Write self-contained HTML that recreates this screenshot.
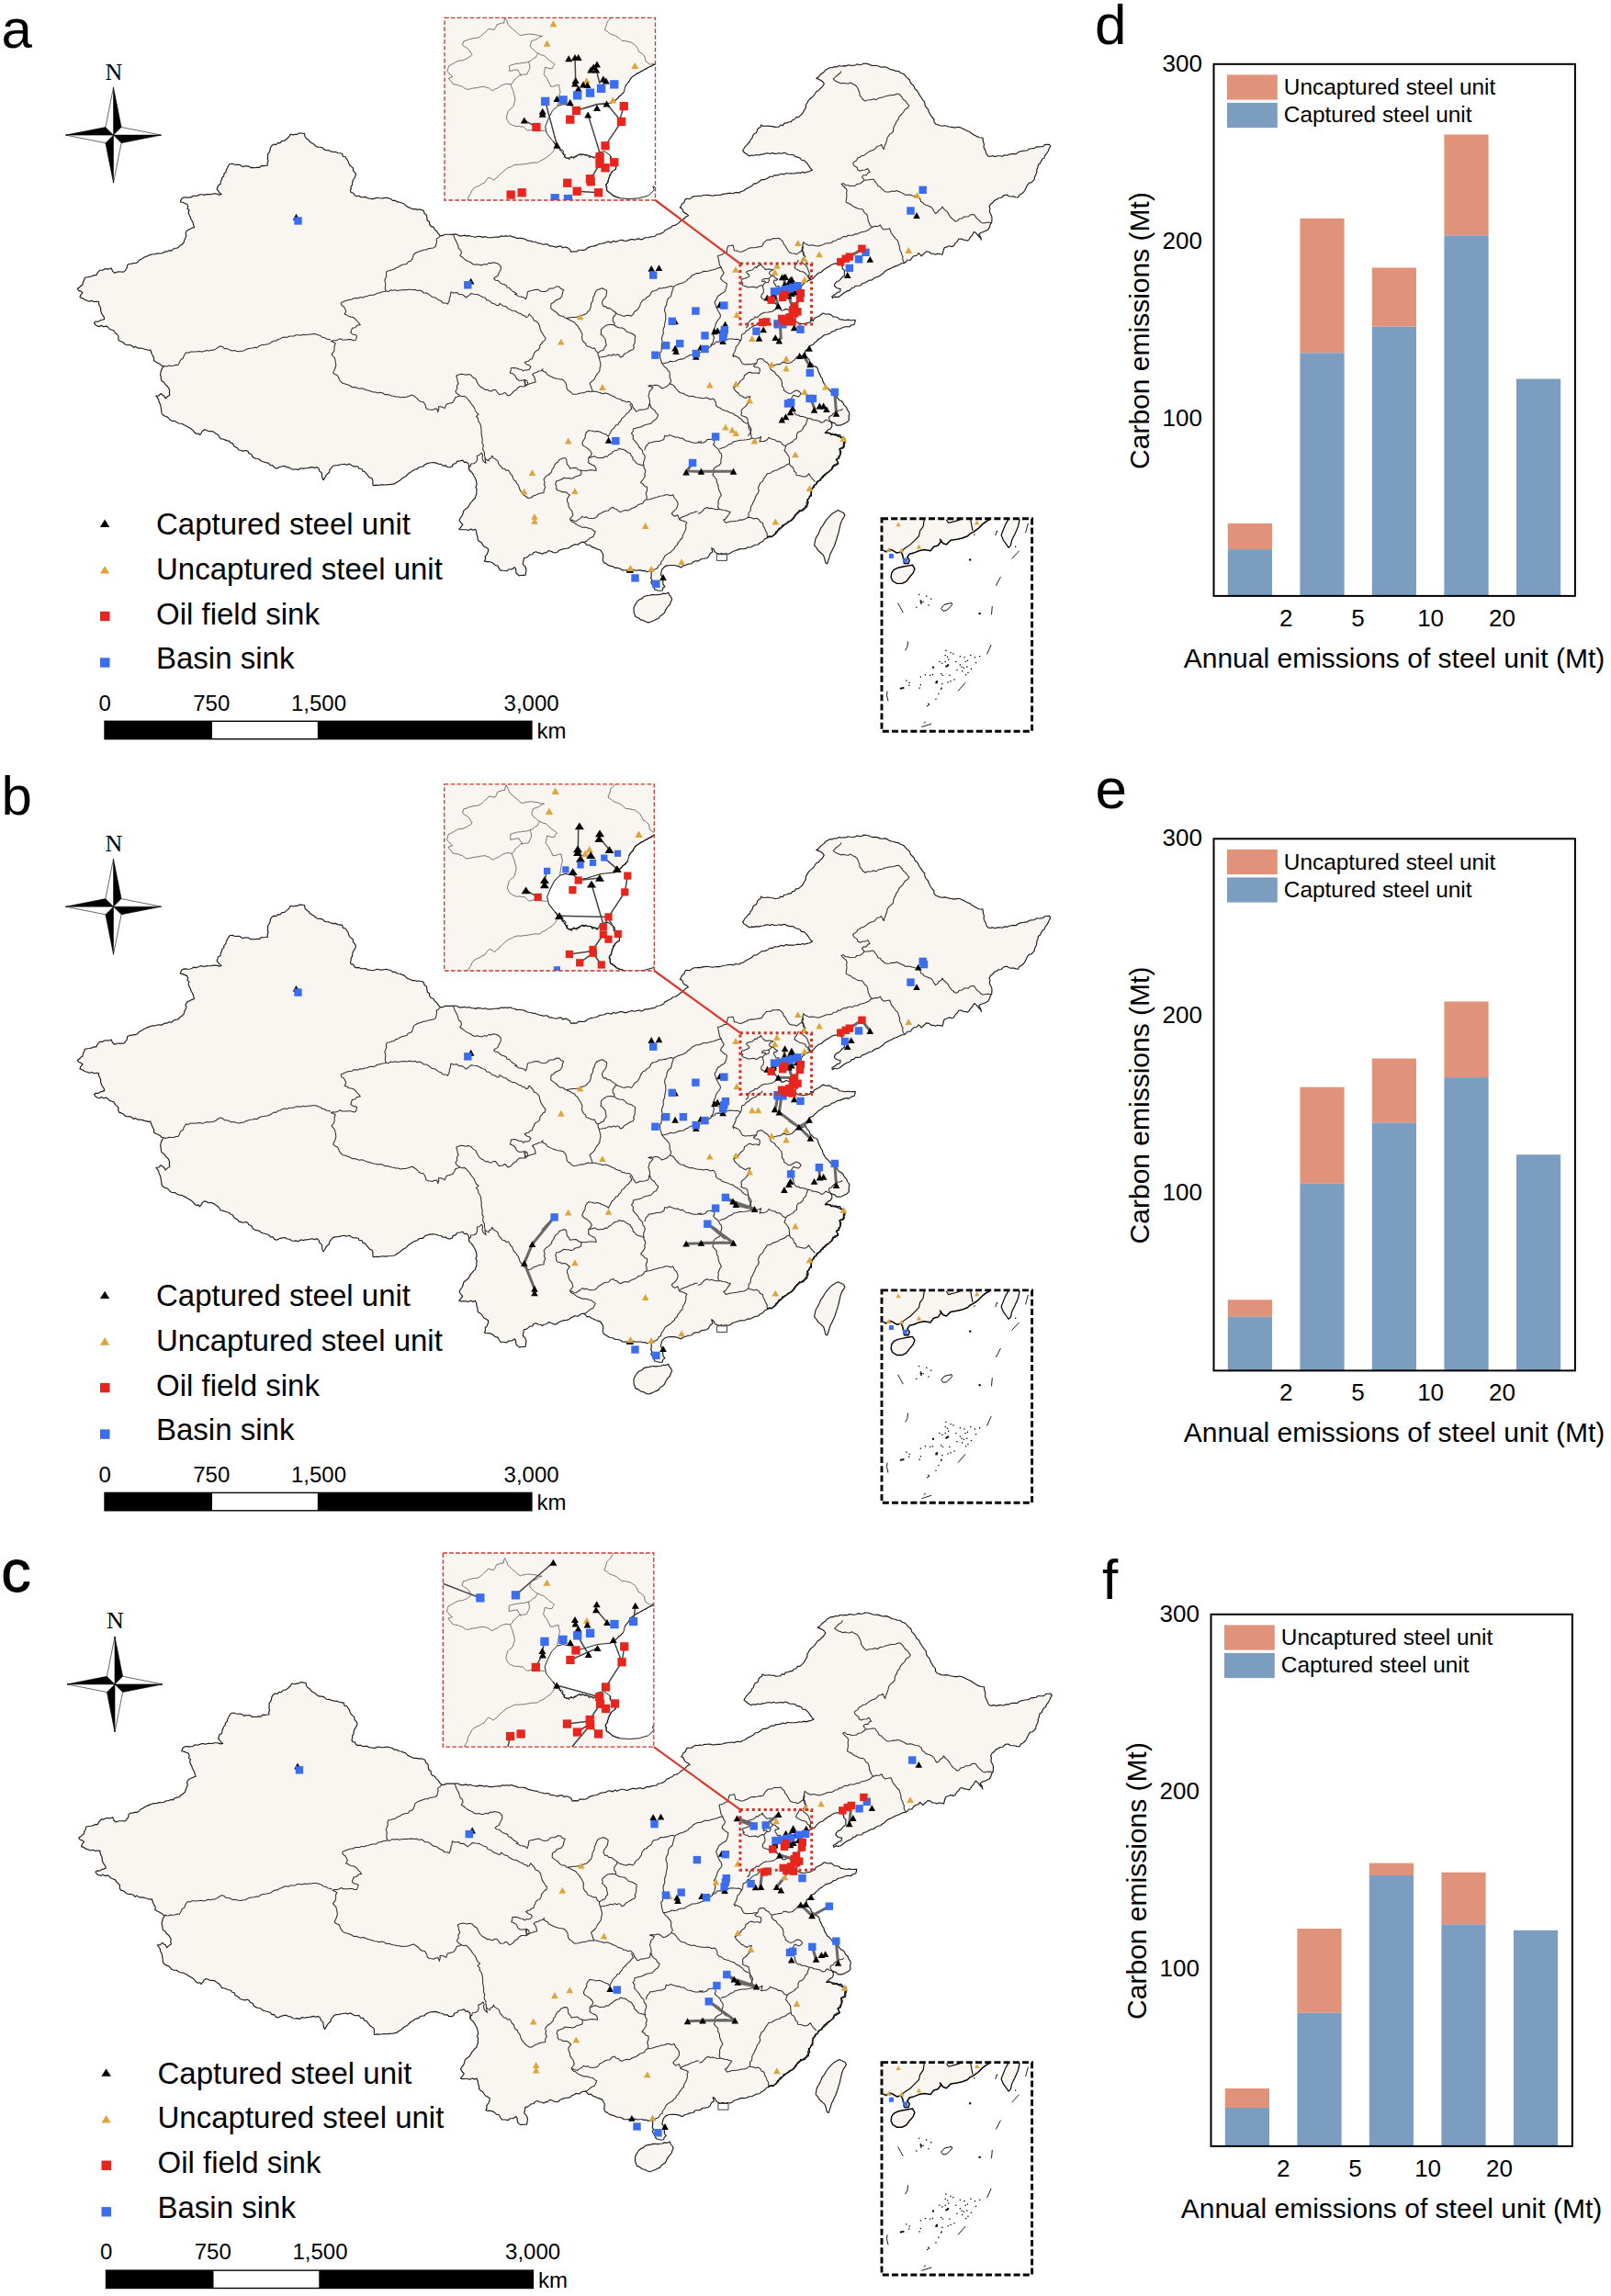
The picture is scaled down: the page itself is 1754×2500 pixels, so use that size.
<!DOCTYPE html>
<html><head><meta charset="utf-8"><title>Figure</title>
<style>html,body{margin:0;padding:0;background:#fff}svg{display:block}text{font-family:"Liberation Sans",sans-serif;fill:#000}.se{font-family:"Liberation Serif",serif}</style></head><body>
<svg width="1754" height="2500" viewBox="0 0 1754 2500">
<rect width="1754" height="2500" fill="#fff"/>
<defs>
<g id="base">
<path d="M402.8,216.2 L400.3,215.8 L398.2,214.4 L395.6,214.6 L393.2,214.7 L390.7,213.3 L388.6,213.8 L386.2,212.8 L384.9,210.3 L382.0,209.5 L381.5,207.3 L382.3,205.3 L382.0,203.3 L383.5,201.3 L383.7,198.8 L384.3,196.3 L385.9,194.0 L386.8,192.1 L387.5,190.0 L386.5,187.8 L384.4,185.6 L384.4,183.0 L382.9,181.6 L380.9,180.0 L379.7,177.7 L379.0,175.3 L377.6,173.2 L376.0,170.7 L373.4,170.3 L372.7,167.3 L369.5,166.8 L367.8,166.5 L364.8,165.3 L362.8,165.5 L359.5,164.6 L357.5,163.6 L355.2,163.7 L353.1,162.9 L351.1,160.8 L348.4,160.3 L345.6,160.1 L343.7,159.0 L342.2,157.3 L339.9,156.0 L337.1,154.3 L336.2,152.4 L333.9,151.0 L332.0,148.7 L331.5,145.4 L329.1,145.3 L326.5,144.8 L323.5,146.3 L321.5,146.3 L319.2,146.9 L316.2,146.2 L314.9,148.7 L313.1,150.5 L311.0,152.3 L309.1,153.4 L307.0,153.5 L304.7,155.9 L302.7,155.4 L300.6,157.6 L298.3,157.0 L296.1,158.4 L294.3,161.0 L294.1,163.5 L292.8,166.4 L291.4,168.2 L291.7,170.6 L291.3,173.2 L292.1,175.1 L291.1,177.3 L291.5,180.0 L288.6,180.4 L286.8,180.6 L284.5,180.4 L282.5,182.5 L280.2,182.1 L277.5,182.7 L275.1,182.4 L273.0,182.6 L270.3,180.8 L268.2,180.9 L266.4,180.8 L264.1,181.6 L261.4,179.5 L259.7,179.2 L256.9,179.4 L254.8,179.0 L252.8,178.2 L250.0,178.7 L248.4,181.0 L247.4,183.0 L246.2,185.2 L245.9,187.5 L243.9,189.3 L243.7,191.8 L241.9,193.3 L241.4,195.5 L240.3,197.8 L240.1,200.4 L237.4,201.9 L237.0,203.8 L236.1,206.2 L237.8,208.0 L238.8,209.8 L241.1,211.4 L238.8,212.1 L236.9,211.3 L234.3,210.9 L231.6,211.0 L230.1,211.7 L227.2,211.6 L225.0,211.5 L222.4,212.4 L220.4,211.8 L218.2,211.7 L216.1,212.6 L213.3,213.5 L210.8,213.0 L208.9,214.4 L207.1,214.9 L204.1,215.1 L201.8,214.8 L199.8,215.0 L197.5,216.5 L196.3,220.0 L198.6,220.3 L201.4,221.5 L203.8,222.5 L204.7,225.1 L203.9,227.3 L206.0,228.8 L205.1,231.5 L206.1,234.3 L207.4,236.6 L207.9,238.7 L209.1,240.6 L210.3,243.1 L210.6,244.8 L211.6,247.4 L208.7,248.5 L206.0,249.8 L203.6,251.0 L202.1,253.7 L202.8,256.4 L202.2,258.5 L200.7,261.5 L200.2,263.8 L198.3,266.0 L195.6,267.7 L193.7,269.9 L191.3,270.3 L188.5,271.2 L186.6,273.2 L184.6,272.6 L181.9,274.0 L179.6,273.9 L177.0,275.5 L174.9,276.0 L172.1,275.7 L169.6,276.6 L166.2,276.8 L163.7,277.4 L161.5,278.3 L158.4,279.6 L156.4,280.5 L154.5,281.9 L151.6,283.2 L150.1,285.1 L148.1,286.5 L145.2,286.5 L143.7,287.1 L141.2,287.3 L138.7,288.5 L138.1,292.0 L136.0,294.9 L134.5,296.1 L131.5,296.0 L129.2,295.9 L127.1,296.2 L124.9,297.2 L122.6,295.4 L121.3,292.0 L118.6,292.9 L116.2,292.7 L113.6,292.9 L111.4,294.3 L108.7,294.2 L106.4,296.6 L104.8,299.8 L102.3,299.6 L100.3,300.8 L97.5,301.4 L95.4,301.7 L92.4,302.2 L91.7,304.9 L90.3,307.4 L90.0,310.0 L88.3,311.0 L86.4,312.9 L84.3,314.2 L85.7,316.4 L87.9,317.1 L90.0,318.7 L87.8,321.3 L87.0,323.8 L89.5,324.6 L92.6,326.6 L95.1,327.2 L97.0,328.2 L99.8,327.4 L102.3,328.6 L105.1,328.2 L107.5,328.5 L107.5,330.7 L108.4,333.0 L109.6,335.4 L109.6,337.6 L110.1,340.0 L111.1,342.2 L113.1,344.9 L113.7,347.5 L111.2,348.3 L108.9,348.9 L106.9,350.3 L104.2,350.1 L102.5,351.4 L103.9,353.7 L105.6,354.9 L108.5,355.6 L110.5,354.3 L112.6,355.8 L115.7,355.1 L117.5,356.2 L118.9,358.0 L121.8,359.2 L123.8,359.8 L125.6,362.8 L127.3,364.0 L129.0,366.0 L128.7,368.9 L129.9,371.3 L132.0,371.8 L134.2,372.9 L136.2,375.0 L138.6,375.7 L140.7,375.5 L143.6,376.4 L145.6,378.5 L147.5,377.3 L149.9,379.1 L152.6,379.1 L154.6,379.3 L156.8,380.0 L158.7,380.5 L161.7,381.3 L163.8,381.0 L164.7,383.7 L165.3,385.4 L166.6,387.8 L167.7,390.3 L167.3,392.6 L169.9,394.3 L171.8,395.2 L174.2,396.4 L176.3,398.4 L178.8,398.6 L176.7,400.6 L175.6,402.9 L175.1,405.0 L174.6,408.0 L175.3,410.3 L175.4,412.5 L176.1,415.0 L178.6,416.2 L179.7,418.4 L182.2,420.5 L183.7,422.6 L184.7,425.3 L184.2,427.4 L184.9,430.0 L182.4,431.8 L180.1,433.8 L178.9,431.3 L176.8,430.0 L175.3,428.5 L172.8,430.9 L169.9,431.1 L171.4,433.2 L172.7,435.1 L173.1,437.6 L174.6,440.4 L175.0,442.5 L175.5,445.4 L175.8,448.0 L176.1,450.0 L177.3,451.7 L179.8,453.3 L182.4,454.1 L183.7,455.5 L185.2,457.3 L187.6,458.4 L190.7,458.5 L192.6,459.9 L194.8,461.0 L197.8,461.3 L200.0,462.5 L202.3,463.5 L203.7,464.4 L205.7,465.6 L208.3,467.1 L210.2,468.8 L211.1,470.2 L213.5,472.3 L216.3,472.0 L217.5,473.7 L219.4,471.3 L220.5,469.3 L222.8,467.7 L224.9,468.5 L227.6,469.7 L229.6,469.5 L232.5,470.1 L234.2,471.6 L236.9,473.2 L238.6,475.1 L239.9,477.6 L242.3,478.0 L244.9,478.9 L247.4,479.9 L249.9,480.4 L251.2,482.4 L253.4,482.7 L254.7,485.7 L256.4,486.7 L258.8,488.2 L260.0,490.0 L262.6,490.5 L264.6,491.1 L268.0,490.5 L270.0,491.6 L270.8,493.4 L273.8,494.7 L275.0,497.5 L276.8,498.6 L279.1,499.5 L282.2,500.0 L284.1,501.8 L286.3,502.7 L290.0,503.7 L292.4,504.4 L294.6,506.8 L296.8,506.6 L298.8,509.3 L301.2,510.2 L303.9,508.7 L307.2,507.8 L310.0,507.4 L312.8,508.9 L315.2,509.1 L317.7,510.9 L320.0,511.2 L322.1,510.8 L324.7,511.6 L327.5,509.8 L330.2,510.4 L332.7,509.8 L335.0,509.7 L337.6,509.1 L339.7,508.6 L342.7,509.5 L345.0,508.6 L347.1,510.3 L347.9,513.1 L350.2,514.8 L350.5,517.7 L351.0,520.6 L352.2,522.6 L353.8,520.1 L354.6,518.3 L356.2,516.2 L358.7,514.2 L358.9,511.7 L360.7,509.6 L362.4,507.5 L364.7,506.8 L367.8,506.6 L370.3,506.0 L372.2,505.7 L375.0,505.2 L377.2,506.2 L380.2,505.1 L382.5,506.6 L385.0,507.9 L387.5,507.7 L390.0,508.1 L390.9,510.3 L394.1,510.7 L394.8,512.9 L397.4,513.8 L400.2,517.3 L402.3,519.8 L405.1,521.1 L406.0,523.9 L405.8,526.5 L406.3,528.7 L409.5,528.1 L411.9,528.5 L414.9,527.9 L417.5,527.7 L420.0,528.0 L422.7,527.6 L425.4,527.4 L427.9,527.1 L430.0,526.6 L432.7,524.8 L435.5,523.1 L437.5,521.2 L439.2,519.9 L442.3,518.4 L443.4,516.9 L445.5,515.0 L448.1,513.4 L449.8,512.2 L451.6,511.3 L454.5,510.6 L455.6,509.0 L458.4,508.2 L460.4,508.2 L462.4,506.0 L464.6,504.9 L467.5,504.0 L470.0,503.8 L472.3,503.6 L474.8,504.1 L477.5,505.2 L480.1,505.4 L482.3,507.1 L485.5,506.9 L487.1,508.7 L490.0,508.8 L492.4,507.9 L493.1,505.5 L496.4,504.5 L497.4,502.4 L500.7,501.9 L503.7,501.1 L505.5,503.4 L507.8,503.1 L510.0,505.0 L510.7,507.7 L510.5,510.2 L511.5,512.5 L513.2,513.8 L515.0,516.2 L516.0,518.2 L517.2,520.2 L518.2,522.5 L518.7,525.2 L519.2,527.7 L517.9,530.4 L519.1,532.5 L518.8,535.3 L518.9,537.6 L517.8,540.4 L517.4,542.5 L515.5,543.8 L514.0,545.8 L512.5,547.3 L511.1,549.8 L509.5,552.5 L507.3,553.9 L504.8,556.1 L504.2,558.7 L503.3,561.4 L501.2,564.0 L500.1,566.3 L501.4,568.7 L503.8,571.2 L501.7,574.1 L499.8,576.1 L502.0,576.8 L505.2,576.7 L507.6,576.7 L510.0,577.5 L512.8,576.1 L514.8,577.3 L517.5,576.3 L518.7,578.9 L519.0,581.9 L520.1,585.0 L520.1,587.5 L521.3,589.2 L523.9,590.6 L525.1,592.4 L526.8,594.9 L529.1,596.1 L531.6,597.7 L531.5,600.3 L530.2,603.6 L528.2,605.9 L528.6,608.4 L527.3,610.9 L529.6,611.6 L532.4,611.5 L535.1,612.3 L537.0,613.4 L539.1,615.5 L541.8,616.0 L543.4,618.9 L544.9,621.1 L548.4,621.2 L551.9,621.8 L553.4,620.0 L556.6,619.9 L558.5,619.1 L560.3,617.7 L561.6,619.5 L561.7,622.2 L562.2,624.3 L565.3,626.8 L568.9,626.4 L572.0,626.3 L572.5,623.5 L573.0,620.2 L571.8,616.8 L569.3,614.4 L569.8,611.3 L570.4,607.6 L572.9,607.3 L575.2,605.6 L576.9,604.0 L579.7,603.8 L580.8,601.7 L583.6,600.7 L586.0,601.9 L588.7,602.4 L590.4,603.3 L592.3,602.1 L595.0,601.6 L597.3,599.5 L599.4,600.2 L601.3,600.9 L603.7,602.0 L606.7,601.3 L608.0,599.8 L610.6,598.6 L614.2,597.5 L617.2,597.3 L619.8,596.4 L621.4,594.8 L623.8,593.9 L625.5,592.6 L629.1,593.2 L630.7,591.8 L633.2,590.4 L635.7,590.2 L637.5,591.6 L638.8,593.5 L641.9,593.5 L644.3,595.4 L647.4,596.6 L649.3,597.6 L651.6,598.3 L654.1,599.3 L655.3,601.5 L656.6,603.5 L656.8,605.8 L656.2,609.5 L657.5,612.6 L659.8,613.6 L662.0,615.3 L664.0,616.1 L667.4,616.9 L669.9,618.4 L672.5,618.4 L675.4,619.2 L677.9,620.9 L680.9,621.0 L684.1,620.6 L686.0,620.2 L689.3,620.3 L692.2,621.2 L695.1,620.9 L697.7,620.9 L699.4,621.6 L702.2,621.4 L704.4,622.7 L706.4,622.1 L709.4,622.0 L709.1,624.1 L709.2,626.8 L708.7,629.4 L710.0,631.8 L708.8,634.2 L710.0,636.2 L711.7,639.2 L712.9,641.9 L715.5,642.7 L717.9,643.2 L721.1,643.0 L721.8,640.3 L723.9,638.8 L721.9,636.2 L721.8,632.8 L721.0,631.0 L720.9,627.7 L719.4,626.1 L720.0,622.9 L720.8,620.1 L723.4,617.1 L726.1,615.9 L729.9,615.5 L732.9,615.5 L735.4,615.8 L738.9,616.6 L741.1,617.9 L744.1,615.9 L746.7,615.2 L749.5,614.1 L753.1,613.7 L755.1,611.5 L757.9,610.7 L760.6,610.9 L763.6,608.5 L766.3,608.3 L769.5,607.7 L771.5,606.1 L773.1,602.8 L775.8,601.1 L774.7,596.7 L776.9,598.1 L778.2,600.8 L780.2,602.4 L783.2,603.2 L785.5,602.6 L787.7,603.4 L790.0,602.7 L793.5,603.2 L795.6,602.1 L798.2,600.2 L800.3,599.7 L803.1,598.6 L806.1,597.6 L808.6,597.8 L811.4,597.4 L814.1,595.9 L817.0,596.0 L819.9,594.5 L822.1,593.3 L825.4,593.0 L827.4,590.9 L830.4,589.5 L832.8,586.7 L835.7,585.6 L837.3,583.7 L840.0,584.1 L842.2,583.1 L844.0,580.9 L846.3,578.6 L848.5,576.8 L850.6,574.5 L852.6,573.1 L853.9,571.1 L856.9,569.8 L858.9,567.7 L861.6,566.9 L864.0,564.5 L865.1,561.4 L867.1,559.2 L869.9,557.4 L872.4,556.2 L874.5,554.9 L876.5,552.6 L878.8,549.1 L879.7,547.1 L879.3,544.5 L880.8,542.6 L882.2,539.8 L883.0,537.4 L882.9,535.4 L884.0,532.5 L885.1,530.4 L886.4,528.2 L888.7,526.9 L890.9,524.4 L892.5,522.5 L894.2,520.9 L895.2,519.0 L896.9,517.5 L899.0,515.7 L901.8,514.3 L904.0,512.3 L905.7,510.3 L907.7,507.5 L909.5,505.7 L912.4,504.6 L911.0,500.6 L913.6,498.3 L914.8,495.4 L914.5,492.4 L914.0,489.0 L918.5,487.6 L918.1,484.8 L920.1,482.5 L919.8,480.5 L918.6,478.3 L917.2,476.5 L914.8,475.9 L912.9,475.4 L910.8,474.0 L909.0,473.5 L905.7,473.5 L904.2,472.0 L901.5,471.4 L898.2,471.5 L899.8,469.9 L901.6,468.0 L904.1,467.0 L905.7,464.5 L905.8,461.4 L903.8,458.9 L906.6,460.1 L908.9,460.8 L910.8,463.1 L913.9,463.1 L916.5,462.6 L919.2,461.2 L922.1,459.8 L924.4,457.3 L924.1,453.8 L924.8,450.4 L924.2,448.4 L922.5,446.4 L921.7,443.7 L919.4,441.4 L917.8,438.4 L915.9,436.5 L913.9,435.8 L912.3,433.9 L911.2,431.8 L909.2,430.9 L907.3,428.8 L904.8,426.9 L902.7,424.2 L901.2,422.4 L899.1,420.9 L897.7,418.3 L896.0,415.6 L895.4,412.4 L893.7,410.3 L892.7,407.6 L891.0,404.5 L890.6,401.8 L888.8,399.4 L885.8,398.6 L883.9,396.1 L881.8,394.4 L881.1,391.6 L878.7,389.3 L877.3,386.7 L876.4,384.2 L876.8,382.0 L879.4,380.2 L880.9,377.7 L882.6,376.2 L885.2,375.3 L887.0,373.1 L889.4,371.3 L890.8,369.4 L893.3,368.3 L895.0,366.8 L897.5,364.8 L900.2,364.3 L903.6,363.2 L905.6,361.1 L908.5,360.5 L911.1,358.5 L914.4,358.0 L916.7,357.0 L919.4,356.0 L921.9,355.5 L924.7,356.0 L927.0,354.0 L930.2,353.2 L930.8,351.2 L931.3,348.5 L928.9,348.5 L925.9,348.7 L923.4,348.1 L920.1,348.7 L916.6,347.9 L914.0,347.6 L912.1,345.7 L909.8,345.0 L907.1,344.9 L905.4,343.3 L902.9,341.8 L899.4,342.2 L896.1,341.0 L894.0,342.4 L892.2,344.0 L889.3,345.3 L886.6,346.7 L885.3,349.4 L883.6,348.3 L882.5,348.4 L883.1,349.4 L881.0,351.3 L877.4,352.0 L874.0,352.7 L870.4,352.3 L868.0,351.1 L866.0,349.7 L865.4,347.9 L866.4,345.4 L867.3,342.9 L868.9,341.8 L869.2,339.4 L867.4,338.7 L867.1,336.8 L864.8,335.5 L862.2,335.6 L861.6,337.8 L858.6,337.2 L855.7,336.4 L853.2,337.8 L850.6,338.0 L848.9,334.7 L846.9,333.6 L845.3,331.6 L843.3,329.0 L843.1,326.4 L843.8,323.9 L845.2,320.8 L847.6,319.0 L849.6,318.4 L852.7,318.7 L854.7,320.4 L857.2,320.0 L859.9,319.2 L862.3,318.5 L865.3,318.8 L867.3,317.8 L869.3,316.3 L872.1,314.2 L872.3,311.9 L875.1,308.6 L877.6,307.1 L881.1,305.1 L883.6,304.3 L885.6,302.9 L887.5,300.6 L889.3,298.8 L891.2,297.2 L894.1,296.4 L896.0,294.5 L898.0,292.9 L900.3,291.4 L902.8,290.3 L904.4,288.8 L907.3,287.5 L909.6,286.9 L912.7,287.4 L915.2,287.8 L917.3,290.0 L917.1,292.3 L919.5,294.5 L919.3,297.6 L919.4,300.1 L917.1,301.7 L915.1,304.1 L913.5,305.7 L911.0,306.8 L909.0,308.9 L908.3,311.0 L911.1,313.7 L915.2,314.6 L914.4,317.8 L911.6,318.4 L909.8,320.2 L907.7,321.5 L905.7,322.8 L906.5,324.6 L908.5,323.1 L911.2,323.6 L913.9,322.9 L916.6,320.7 L919.3,318.7 L922.0,317.1 L925.6,315.9 L927.3,313.5 L929.6,313.3 L931.5,311.2 L934.4,311.2 L936.7,311.0 L938.6,308.8 L941.5,308.0 L943.8,306.8 L946.7,305.1 L949.4,304.9 L952.0,302.7 L954.8,301.5 L957.2,300.9 L959.5,299.0 L961.7,297.6 L963.4,295.6 L966.4,293.8 L968.6,292.9 L971.0,291.6 L973.4,290.4 L976.4,289.4 L979.4,287.9 L981.8,286.8 L984.8,286.4 L986.6,285.0 L988.1,283.2 L991.3,283.1 L992.9,280.7 L995.0,278.7 L998.0,278.2 L1000.2,275.7 L1001.7,277.1 L1003.3,278.9 L1004.7,277.2 L1007.0,275.4 L1008.6,273.8 L1011.5,274.3 L1013.7,276.2 L1016.0,276.2 L1018.6,277.2 L1020.6,276.2 L1023.2,276.5 L1026.0,277.2 L1026.7,274.7 L1027.3,272.4 L1028.1,269.9 L1031.3,268.7 L1033.3,267.8 L1036.4,268.6 L1038.5,267.7 L1040.2,264.7 L1042.5,262.6 L1043.8,260.2 L1046.6,260.0 L1048.7,261.1 L1051.5,261.5 L1053.6,262.1 L1055.0,260.8 L1056.3,258.5 L1058.4,256.4 L1059.4,254.2 L1060.9,252.4 L1063.1,254.3 L1064.0,255.5 L1065.9,257.7 L1067.6,259.3 L1068.5,261.3 L1067.7,258.3 L1065.7,255.1 L1068.1,253.2 L1070.5,252.6 L1073.4,251.3 L1075.9,249.9 L1077.5,247.1 L1078.2,244.4 L1079.6,242.4 L1079.9,240.3 L1080.0,237.4 L1079.6,235.1 L1078.1,232.3 L1077.4,230.3 L1077.9,227.0 L1077.1,225.0 L1078.6,222.2 L1081.3,220.2 L1082.8,218.1 L1085.2,217.2 L1087.1,215.7 L1090.0,215.5 L1091.5,214.0 L1093.5,212.5 L1096.4,212.2 L1098.4,213.7 L1100.9,214.0 L1103.3,213.9 L1106.0,214.8 L1108.5,215.0 L1109.8,212.4 L1112.2,211.1 L1114.5,209.2 L1115.8,207.3 L1117.4,203.9 L1118.7,201.3 L1120.3,199.3 L1122.8,198.9 L1124.3,197.3 L1126.2,195.3 L1126.5,192.7 L1127.9,190.0 L1128.8,187.4 L1128.7,185.1 L1130.0,182.1 L1130.4,179.3 L1132.5,177.9 L1133.7,175.1 L1135.0,173.0 L1137.0,171.9 L1138.0,169.0 L1139.5,167.3 L1141.2,164.5 L1142.1,162.2 L1143.7,159.3 L1142.5,157.3 L1139.8,157.4 L1137.3,157.6 L1135.6,159.4 L1133.7,159.8 L1130.5,159.9 L1128.5,159.8 L1126.5,161.4 L1123.2,161.8 L1120.6,162.1 L1118.3,163.9 L1116.1,164.0 L1113.1,164.4 L1111.2,164.8 L1108.5,165.7 L1106.4,167.6 L1103.5,167.6 L1101.2,167.6 L1098.3,168.2 L1096.4,169.3 L1093.5,168.8 L1091.5,170.2 L1088.4,169.7 L1086.1,169.8 L1083.0,170.6 L1080.8,169.6 L1078.7,170.3 L1076.0,170.1 L1074.1,167.7 L1073.2,164.8 L1072.1,162.6 L1071.0,160.0 L1071.5,157.5 L1070.8,155.2 L1070.2,152.7 L1070.0,150.0 L1066.2,149.7 L1063.5,148.6 L1060.6,146.9 L1058.2,145.5 L1056.0,143.7 L1053.8,142.8 L1051.1,141.5 L1048.1,139.9 L1045.9,138.9 L1043.4,138.2 L1041.0,138.8 L1038.1,138.8 L1036.0,138.4 L1033.2,138.0 L1031.0,137.2 L1028.5,136.8 L1025.5,137.2 L1023.5,136.8 L1020.7,135.7 L1018.5,134.9 L1016.8,132.3 L1017.0,130.0 L1014.8,127.5 L1013.5,125.6 L1012.3,123.7 L1011.2,121.2 L1010.3,118.6 L1008.8,117.3 L1007.3,115.1 L1006.8,112.8 L1006.7,110.9 L1004.7,108.8 L1003.3,106.5 L1001.6,104.2 L1000.6,102.6 L999.5,100.1 L997.9,98.1 L996.2,97.0 L995.2,94.1 L993.6,92.4 L991.3,90.0 L990.4,87.0 L988.3,85.2 L986.8,83.8 L984.6,81.2 L983.3,80.2 L980.3,79.2 L978.5,77.5 L975.5,77.4 L973.4,76.4 L970.7,75.9 L968.7,75.3 L966.2,73.8 L963.6,72.8 L961.0,73.1 L958.6,73.0 L955.9,71.8 L953.2,71.3 L950.5,71.5 L947.9,70.9 L946.1,69.9 L943.5,69.4 L940.5,69.0 L939.0,70.0 L935.7,70.7 L933.3,69.8 L931.0,71.0 L928.9,71.4 L925.6,71.1 L923.2,70.7 L921.1,71.9 L918.5,71.6 L916.5,72.2 L913.5,71.5 L910.9,72.9 L907.9,72.8 L906.0,73.8 L903.4,73.7 L901.0,75.1 L898.8,76.2 L897.0,78.5 L894.9,80.0 L892.8,81.7 L890.9,84.2 L888.7,85.3 L891.0,86.3 L893.5,87.4 L895.5,88.7 L897.3,91.2 L896.0,93.3 L894.4,95.5 L892.9,96.5 L891.1,98.8 L888.8,99.7 L886.8,102.7 L885.5,104.6 L883.8,106.3 L881.4,108.0 L879.8,110.1 L878.7,112.3 L877.4,114.0 L877.4,117.0 L875.9,119.6 L874.5,121.8 L873.6,123.8 L871.5,125.6 L869.4,127.6 L867.0,127.5 L865.1,130.0 L862.7,130.7 L861.2,132.8 L859.0,132.7 L856.5,133.9 L854.0,134.1 L852.2,136.6 L849.8,136.0 L848.0,138.1 L845.6,138.2 L843.4,138.4 L841.5,137.6 L838.6,137.4 L836.2,137.0 L833.5,137.2 L831.0,137.4 L828.5,136.1 L828.0,138.4 L825.1,140.1 L824.4,142.0 L823.6,144.6 L820.7,146.0 L819.6,147.8 L818.8,150.6 L817.0,152.4 L816.1,155.1 L814.6,155.9 L813.0,158.1 L810.9,160.1 L809.9,162.0 L808.6,163.8 L809.7,165.5 L811.7,167.0 L813.8,168.4 L816.1,169.9 L818.3,169.0 L821.0,169.3 L823.5,168.5 L826.0,169.0 L828.5,168.1 L831.1,167.9 L833.7,167.0 L835.7,166.7 L838.6,167.5 L840.6,166.5 L843.4,167.4 L846.0,167.1 L848.6,166.7 L851.4,167.3 L853.5,166.2 L855.8,167.0 L858.0,168.3 L861.4,168.5 L864.0,168.8 L866.0,170.6 L868.5,171.1 L871.2,172.2 L872.5,174.3 L875.1,174.5 L876.5,175.6 L878.5,177.5 L879.7,179.2 L881.3,181.6 L882.9,183.9 L884.6,185.1 L881.3,186.6 L878.4,187.3 L875.7,188.1 L873.7,187.3 L871.5,188.4 L868.7,188.0 L866.3,188.6 L863.6,189.0 L861.2,188.9 L858.5,189.0 L856.0,188.5 L853.3,190.0 L850.8,189.2 L848.3,190.3 L845.8,190.9 L843.1,190.7 L841.5,192.3 L838.4,192.2 L836.2,193.8 L834.4,194.8 L831.8,195.6 L829.4,195.5 L827.6,197.0 L825.2,198.8 L823.1,199.9 L821.0,199.9 L818.9,202.1 L817.0,203.2 L814.5,204.6 L812.3,205.5 L810.6,207.0 L808.9,208.0 L806.0,208.7 L805.4,209.9 L802.8,209.6 L800.6,209.5 L798.0,210.8 L795.5,210.2 L793.1,210.4 L790.8,210.9 L788.0,211.1 L785.9,211.9 L783.0,212.5 L780.0,212.5 L778.3,212.6 L775.7,213.2 L772.6,212.6 L770.0,212.2 L767.6,212.5 L765.9,212.5 L762.9,213.5 L760.4,213.3 L758.0,213.7 L755.6,213.6 L752.6,215.3 L751.1,216.7 L747.4,216.2 L745.6,217.8 L744.9,220.4 L742.7,221.7 L741.5,224.2 L740.3,226.1 L742.6,227.0 L743.9,230.5 L745.2,231.9 L747.6,232.9 L749.5,234.7 L746.9,236.0 L744.8,238.0 L742.7,240.0 L740.5,241.3 L738.5,243.1 L737.1,244.1 L734.8,245.4 L732.3,245.7 L730.6,247.7 L728.5,248.4 L726.5,249.8 L724.1,250.5 L722.6,252.8 L720.1,254.1 L717.9,254.9 L715.3,255.2 L713.0,257.3 L710.9,257.5 L707.6,258.1 L705.7,258.8 L702.3,258.7 L700.5,260.1 L698.0,260.9 L696.0,259.9 L693.7,260.1 L691.3,261.2 L689.0,260.6 L687.2,260.6 L684.6,261.4 L681.8,262.5 L680.2,262.5 L677.1,261.4 L675.4,261.5 L673.0,262.2 L670.4,263.5 L668.2,262.2 L665.4,264.1 L662.7,263.1 L660.4,263.2 L658.4,264.6 L655.1,265.2 L653.0,265.3 L651.1,266.3 L649.0,267.4 L646.9,267.9 L644.1,268.3 L641.6,269.1 L639.3,270.1 L638.0,271.5 L635.7,272.4 L632.9,272.3 L630.0,272.2 L627.6,274.1 L624.7,273.8 L621.7,274.3 L620.6,271.7 L618.1,269.9 L615.6,269.0 L612.5,269.8 L611.1,268.1 L608.2,268.1 L605.7,269.1 L602.7,268.4 L600.5,267.7 L598.3,267.9 L596.1,265.9 L593.8,265.7 L591.8,266.2 L589.6,265.5 L586.8,264.9 L584.7,264.2 L582.7,263.3 L579.8,263.2 L578.0,262.4 L575.7,262.1 L573.6,261.6 L571.6,260.3 L568.8,259.6 L567.1,259.4 L563.9,259.4 L562.3,259.5 L560.2,258.1 L557.9,257.9 L555.7,256.7 L552.9,257.3 L550.6,256.9 L548.0,257.3 L545.4,256.9 L543.5,258.1 L540.7,258.1 L537.9,258.2 L535.9,258.6 L533.0,258.8 L530.4,258.6 L528.3,257.6 L525.9,258.4 L523.3,257.6 L520.3,257.3 L517.6,258.3 L515.6,257.7 L513.0,257.5 L510.6,256.4 L508.2,257.1 L505.6,256.1 L503.3,256.8 L500.1,256.8 L497.6,255.4 L495.4,254.9 L493.0,255.3 L489.9,255.3 L487.8,255.2 L484.9,255.3 L481.6,256.6 L479.3,256.6 L477.3,254.3 L475.4,251.6 L473.2,249.8 L472.1,247.4 L469.2,246.4 L467.6,244.1 L467.7,241.7 L465.3,240.1 L464.8,237.0 L464.5,234.3 L461.9,232.2 L461.4,229.6 L459.1,228.4 L456.5,228.1 L453.9,228.1 L451.8,227.6 L449.2,227.6 L447.2,226.7 L444.1,225.4 L442.0,224.1 L440.2,222.0 L438.0,221.3 L435.4,220.2 L432.7,219.9 L430.2,218.3 L427.5,218.3 L425.9,216.7 L423.1,215.9 L420.5,215.2 L418.0,215.6 L415.5,216.0 L413.4,215.8 L410.4,215.2 L407.8,216.1 L405.8,216.6 L403.0,216.2ZM690.9,659.6 L692.3,657.2 L694.1,654.4 L696.4,652.7 L699.2,651.6 L701.0,649.5 L703.6,648.8 L706.9,648.3 L709.3,647.6 L712.0,647.5 L714.5,647.8 L717.2,647.4 L719.5,647.2 L722.2,646.1 L725.2,646.5 L727.8,645.1 L728.6,647.7 L730.7,650.2 L731.6,652.8 L730.2,655.4 L729.6,657.9 L727.5,660.0 L725.9,662.1 L724.5,664.6 L723.3,667.4 L720.9,669.5 L718.8,670.7 L717.1,673.3 L714.3,674.5 L711.9,675.7 L708.8,677.0 L706.0,677.9 L703.1,677.0 L700.5,675.5 L697.6,674.9 L695.1,672.8 L691.7,671.5 L691.3,669.4 L690.1,667.0 L690.1,664.6 L690.0,661.7ZM912.5,555.6 L915.5,557.1 L918.4,558.4 L919.9,561.1 L918.6,563.6 L916.8,566.1 L915.2,570.2 L914.2,574.4 L913.4,577.9 L912.7,581.3 L911.6,584.5 L910.6,587.8 L909.5,591.2 L908.4,594.5 L906.9,597.3 L905.6,600.3 L904.1,602.9 L903.0,606.7 L901.9,610.1 L900.7,613.8 L898.8,612.8 L897.9,608.8 L896.6,604.6 L893.8,602.0 L890.8,599.5 L888.9,596.4 L886.6,593.7 L887.3,589.9 L888.1,586.1 L889.8,583.4 L891.3,580.8 L892.5,577.8 L893.8,574.8 L895.9,572.3 L897.5,569.4 L899.8,565.9 L902.6,562.8 L904.9,560.3 L907.4,558.4Z" fill="#f9f5f1" stroke="#1c1c1c" stroke-width="1.15" stroke-linejoin="round"/>
<path d="M178.8,398.8 L181.6,399.1 L183.8,398.1 L186.5,398.5 L188.9,398.3 L191.4,397.3 L193.8,397.5 L195.3,395.2 L195.9,393.0 L197.4,391.3 L199.3,390.2 L200.1,387.7 L201.1,385.9 L202.6,383.8 L205.2,384.2 L207.7,383.0 L209.7,383.0 L212.5,383.1 L215.4,382.7 L217.5,382.5 L219.9,383.1 L222.2,382.6 L225.1,381.5 L227.8,382.0 L229.8,381.3 L232.5,381.2 L234.7,380.1 L237.5,378.2 L239.9,376.8 L242.9,377.9 L244.5,379.7 L247.4,379.6 L250.1,381.0 L252.7,382.0 L255.0,381.4 L257.1,382.3 L260.3,382.8 L262.5,382.3 L265.3,382.0 L267.7,380.6 L269.8,379.8 L272.4,379.2 L275.1,379.0 L277.6,378.2 L280.0,378.4 L282.5,376.4 L285.2,375.6 L287.4,375.4 L290.0,375.0 L292.7,374.5 L294.1,373.6 L296.5,372.0 L298.7,370.9 L300.7,371.2 L302.6,369.5 L305.1,368.9 L307.5,367.5 L310.1,367.0 L312.6,367.4 L314.5,366.3 L317.9,366.1 L320.3,366.0 L322.0,364.8 L324.9,364.7 L327.2,365.2 L330.1,364.2 L332.4,364.8 L334.8,364.2 L337.4,364.2 L339.8,363.7 L342.5,363.6 L344.4,364.0 L347.1,365.0 L348.9,365.6 L351.0,367.4 L353.3,367.6 L355.6,369.1 L357.9,369.5 L360.0,370.1M371.1,329.6 L373.3,328.8 L375.6,327.8 L378.0,327.0 L380.3,326.3 L383.1,326.2 L384.6,324.9 L387.0,324.6 L390.1,324.8 L391.9,323.6 L395.0,323.9 L397.1,323.0 L399.7,322.6 L401.6,321.7 L404.4,321.2 L407.0,321.3 L408.6,320.6 L411.4,318.9 L413.5,318.9 L416.0,317.8 L418.6,317.6 L420.4,316.8 L422.7,317.6 L425.4,315.8 L427.7,316.3 L430.6,315.7 L432.9,316.4 L435.4,316.0 L437.5,315.7 L440.5,315.4 L442.3,315.8 L445.0,315.3 L447.3,315.3 L449.8,315.8 L451.9,315.2 L454.1,316.6 L457.0,316.0 L459.1,316.9 L461.3,319.0 L464.5,319.0 L467.0,320.6 L469.0,322.2 L470.7,323.5 L473.9,324.0 L475.5,325.2 L477.7,326.8 L480.2,327.6 L482.1,329.9 L485.4,330.0 L487.6,331.1 L488.3,329.0 L489.3,327.4 L489.3,324.7 L490.3,322.7 L490.6,320.5 L490.9,317.9 L493.9,319.1 L497.6,318.6 L499.9,320.7 L502.7,320.4 L505.2,322.0 L507.5,324.0 L510.7,321.6 L512.8,319.6 L515.9,320.2 L519.4,320.5 L521.3,321.3 L523.8,322.6 L526.1,323.8 L528.2,324.1 L529.8,326.9 L532.3,327.1 L534.4,328.8 L536.0,330.3 L538.7,330.9 L540.6,332.3 L542.9,332.8 L544.3,330.3 L546.1,331.8 L548.1,333.3 L551.1,333.8 L552.8,335.7 L555.3,336.9 L557.6,338.3 L560.5,338.4 L562.3,339.5 L564.8,341.1 L567.4,341.8 L568.6,343.1 L571.5,343.9 L573.0,345.6 L574.9,344.6 L576.2,342.0 L578.2,344.0 L580.1,346.0 L581.3,348.9 L584.0,349.9 L586.4,352.3 L587.4,354.7 L588.0,357.9 L589.0,360.6 L590.4,362.8 L592.0,365.5 L594.1,368.1 L593.1,370.9 L591.1,371.9 L589.8,374.0 L588.1,375.6 L587.6,378.7 L586.5,380.8 L583.4,382.3 L581.6,384.3 L581.2,386.2 L579.8,388.7 L579.6,390.7 L577.5,391.1 L575.3,393.2 L573.5,393.4 L571.2,394.7 L573.6,396.9 L576.0,397.6 L577.9,399.4 L576.1,402.4 L573.8,403.0 L571.4,402.9 L569.6,404.1 L568.1,402.5 L565.1,402.1 L562.8,401.1 L560.0,400.4 L556.3,400.8 L556.2,403.3 L555.3,405.9 L558.6,407.1 L561.2,409.4 L562.2,412.0 L564.7,414.2 L567.8,414.2 L571.4,413.6 L571.9,416.0 L571.6,418.0 L571.7,420.9M420.5,317.0 L419.4,315.0 L419.4,312.0 L419.8,310.3 L419.6,307.8 L418.8,305.3 L419.9,302.6 L420.8,300.5 L420.4,297.8 L421.2,295.2 L424.0,294.8 L426.2,294.0 L429.4,293.1 L431.3,291.4 L433.8,290.8 L435.7,289.3 L438.3,288.3 L440.8,287.8 L442.9,287.5 L444.4,285.0 L447.3,284.3 L449.0,281.9 L449.8,279.1 L450.6,276.8 L452.8,275.3 L454.6,274.5 L456.8,273.7 L459.4,272.8 L461.7,272.0 L464.2,272.0 L466.2,270.8 L469.4,270.3 L471.9,269.9 L474.2,268.5 L475.0,265.6 L475.5,263.1 L475.2,260.1 L477.6,258.6 L479.8,256.4M493.4,255.4 L494.4,257.6 L495.3,260.3 L496.4,262.3 L497.8,265.0 L498.8,267.8 L499.5,270.7 L501.7,272.4 L502.6,275.1 L500.8,278.4 L503.6,280.2 L505.4,281.8 L507.7,283.5 L510.4,284.9 L512.5,285.6 L514.5,287.5 L516.8,288.3 L519.9,287.7 L522.7,288.6 L525.2,288.6 L527.4,287.5 L529.8,288.2 L532.5,286.2 L534.4,286.8 L537.3,285.7 L539.5,286.2 L542.0,286.9 L543.7,288.4 L545.3,290.3 L545.2,293.6 L544.0,295.6 L542.7,298.5 L541.9,300.5 L539.3,301.8 L537.6,303.4 L539.4,305.2 L542.5,305.5 L544.0,307.3 L546.1,308.9 L548.7,309.6 L551.1,310.7 L552.2,313.1 L554.6,313.6 L556.7,315.9 L558.2,317.2 L560.6,318.5 L562.9,320.4M371.1,329.6 L372.0,332.6 L374.4,334.0 L375.6,336.1 L376.8,338.9 L375.1,342.1 L377.6,342.9 L380.0,344.6 L382.0,345.0 L384.6,345.5 L386.9,347.4 L388.7,349.5 L390.5,351.4 L392.2,353.8 L388.8,354.3 L386.5,356.8 L383.6,357.2 L382.5,359.9 L381.9,362.3 L384.3,364.2 L386.6,364.4 L388.7,365.6 L388.0,368.1 L386.9,370.6 L384.7,370.7 L382.0,369.6 L379.5,369.6 L377.3,369.9 L375.1,369.9 L372.3,369.9 L370.3,368.7 L367.9,369.9 L365.6,370.8 L362.3,370.7 L360.2,371.8M360.2,371.5 L363.1,372.5 L365.3,373.9 L364.0,376.6 L364.2,379.4 L363.7,382.4 L361.0,385.8 L362.8,388.0 L364.5,389.9 L365.0,392.6 L365.5,395.0 L365.8,397.7 L365.0,400.8 L364.0,402.9 L362.7,405.9 L364.4,407.6 L367.1,408.6 L368.6,410.8 L369.5,413.5 L371.5,416.0 L373.5,417.6 L376.6,418.2 L378.9,419.1 L381.1,420.0 L383.7,421.7 L386.6,421.4 L389.0,422.4 L391.3,423.2 L393.7,422.7 L396.4,423.5 L398.3,424.5 L401.1,425.2 L403.7,426.0 L406.5,426.9 L409.3,427.1 L411.3,428.0 L414.2,427.3 L417.2,428.3 L419.2,429.7 L421.8,429.4 L424.0,430.1 L426.3,430.9 L428.8,431.2 L430.9,431.9 L433.6,431.9 L436.0,432.8 L439.0,432.5 L441.6,432.5 L444.0,431.7 L446.2,430.9 L449.0,430.1 L451.6,431.9 L453.7,433.4 L455.8,435.9 L458.0,437.2 L460.9,437.7 L462.3,439.6 L463.3,441.6 L463.9,444.5 L465.9,445.7 L468.7,446.0 L470.7,446.4 L472.9,445.2 L475.8,445.0 L476.8,448.6 L477.8,445.4 L477.5,442.7 L479.8,442.7 L482.2,443.5 L484.2,444.6 L486.0,440.3 L488.0,439.6 L490.2,439.1 L492.6,438.5 L494.6,435.6 L495.8,432.6 L498.2,432.0 L500.9,430.7M500.9,431.0 L499.2,429.6 L497.3,428.5 L495.9,426.0 L497.8,423.2 L497.4,420.2 L499.2,417.6 L498.2,415.2 L497.7,411.7 L496.7,409.2 L498.8,408.2 L501.8,407.2 L504.3,407.4 L507.3,408.2 L509.7,407.4 L512.7,408.3 L515.1,411.0 L517.8,412.5 L518.8,414.7 L520.1,417.2 L521.2,419.2 L523.6,421.6 L526.1,422.7 L528.3,424.6 L531.2,424.5 L532.9,425.8 L534.8,426.0 L537.1,424.5 L539.6,424.5 L541.2,426.8 L543.5,429.5 L546.8,429.1 L549.5,427.4 L551.4,428.9 L552.9,431.0 L555.7,429.9 L557.4,428.3 L559.5,425.8 L562.0,424.7 L563.5,422.5 L566.1,420.7 L568.9,420.8 L571.3,420.9M500.9,431.0 L503.0,431.6 L505.8,431.4 L507.7,432.6 L509.3,434.8 L511.1,436.6 L512.8,439.3 L514.2,441.2 L516.1,443.4 L517.1,445.9 L518.4,448.9 L521.1,451.1 L518.5,453.6 L520.5,455.5 L520.9,458.9 L522.7,461.2 L523.6,464.1 L523.9,467.0 L524.2,469.6 L524.0,472.3 L524.5,474.6 L525.0,477.2 L525.2,479.6 L524.9,482.5 L526.4,484.8 L525.7,487.3 L525.8,489.7 L527.4,492.3 L527.5,495.6 L528.0,498.0 L528.1,500.0 L528.5,502.6 L529.3,504.8M529.4,504.7 L527.3,503.1 L525.9,501.6 L525.0,498.5 L525.6,495.5 L524.3,493.0 L522.1,495.4 L519.3,496.2 L519.7,500.2 L518.5,503.1 L515.8,504.7 L512.7,504.9 L512.4,507.5 L510.4,508.7 L510.2,511.5M571.3,420.9 L573.5,419.4 L575.4,418.2 L578.0,417.5 L580.5,416.7 L583.1,416.0 L582.5,412.5 L581.4,409.8 L579.5,407.6 L581.7,406.1 L584.4,405.5 L586.4,404.1 L589.2,403.8 L591.3,401.4M571.3,413.4 L574.0,414.9 L574.9,418.4 L572.1,419.1 L571.2,416.7 L571.0,413.4M560.0,320.5 L562.2,320.8 L564.6,322.8 L566.8,322.9 L570.3,323.8 L572.4,325.8 L573.5,323.1 L574.1,320.4 L574.3,318.0 L576.7,316.8 L579.2,316.6 L581.8,315.6 L584.6,315.3 L586.3,315.6 L589.1,317.3 L591.4,317.6 L593.5,317.4 L596.0,316.5 L597.8,314.2 L600.3,314.0 L602.7,313.9 L605.9,311.9 L608.6,312.1 L611.1,314.6 L613.7,315.4 L612.7,317.8 L612.2,319.8 L611.9,322.2 L609.7,325.1 L606.8,326.3 L604.4,327.3 L602.8,329.6 L600.2,330.5 L599.8,332.7 L599.7,335.6 L601.4,337.0 L603.7,338.8 L606.0,340.2 L608.1,342.8 L610.2,344.1 L613.1,344.2 L614.9,345.9 L617.0,346.6M617.0,346.5 L620.2,345.8 L623.7,345.4 L626.2,345.4 L629.7,344.8 L632.1,344.1 L634.6,342.9 L637.1,342.3 L638.9,340.9 L640.1,339.2 L642.2,337.3 L643.0,334.8 L643.4,333.0 L643.5,330.5 L644.9,328.4 L645.7,326.2 L645.7,323.9 L647.2,321.5 L647.8,319.1 L648.8,317.1 L650.6,315.4 L653.6,314.5 L655.5,313.7 L658.4,315.2 L660.7,316.9 L660.3,319.4 L660.0,321.9 L658.9,323.9 L657.4,325.7 L656.0,327.7 L655.5,330.5 L657.4,333.8 L659.5,333.6 L661.3,335.6 L663.9,335.6 L666.0,337.2 L668.0,338.8 L670.7,340.5M670.6,340.6 L669.7,343.3 L667.9,345.0 L667.2,347.3 L667.3,349.9 L669.0,351.3 L668.8,354.1 L665.7,353.4 L663.6,353.6 L660.6,354.0 L657.9,355.6 L655.7,357.6 L654.2,359.4 L654.7,362.3 L653.9,364.1 L656.1,365.3 L657.3,367.0 L659.0,369.0 L659.2,371.2 L659.8,374.0 L660.2,375.9 L658.1,378.3 L657.3,380.9 L654.3,381.9 L651.3,384.1 L648.9,382.4 L647.4,379.0 L644.6,379.2 L643.1,378.1 L640.5,377.3 L638.0,376.1 L637.5,373.8 L635.4,372.5 L634.0,369.7 L633.5,367.0 L634.0,364.0 L633.0,362.0 L631.8,359.3 L630.3,357.4 L629.0,354.8 L626.9,353.0 L625.2,350.8 L622.8,349.8 L620.9,348.7 L619.2,347.8 L616.8,346.8M668.9,354.0 L671.6,356.0 L674.3,357.0 L677.4,357.1 L679.4,357.9 L681.5,360.1 L683.1,361.7 L685.8,362.2 L688.6,363.5 L691.7,365.5 L691.3,368.5 L691.2,371.7 L690.9,374.1 L689.6,376.3 L690.4,378.4 L689.0,380.8 L686.9,381.2 L684.6,382.7 L682.3,384.1 L679.6,385.5 L678.4,387.7 L675.5,389.0 L674.2,386.8 L672.3,385.8 L670.2,386.9 L667.9,385.8 L665.7,387.2 L662.9,386.5 L660.6,387.8 L658.1,388.3 L654.9,388.8 L652.2,389.1 L651.1,386.8 L651.0,384.2M652.2,389.2 L652.9,392.2 L653.7,395.0 L654.0,397.6 L653.1,400.7 L653.0,403.5 L651.3,406.0 L649.4,408.3 L648.4,410.1 L647.3,412.8 L645.6,414.2 L644.0,415.7 L642.0,417.6 L643.0,419.8 L644.0,422.7 L645.2,426.2M670.6,340.6 L672.9,342.4 L675.5,342.9 L677.4,343.8 L680.2,344.4 L681.9,343.5 L684.5,343.3 L687.4,344.2 L689.2,342.4 L690.3,340.1 L691.7,338.7 L694.1,337.3 L695.5,334.9 L696.7,333.3 L697.3,330.5 L698.7,328.5 L700.4,326.4 L702.9,325.6 L704.1,323.8 L706.5,322.5 L708.1,320.7 L708.7,318.6 L710.6,316.9 L713.3,316.4 L715.5,315.7 L717.5,313.8 L720.6,313.9 L723.0,313.3 L725.0,313.3 L727.6,312.2 L730.7,311.4 L733.5,312.4M733.5,312.1 L732.7,314.6 L731.8,317.3 L731.0,320.5 L730.3,322.9 L727.9,324.6 L726.7,326.4 L726.0,328.9 L725.7,332.1 L724.2,334.4 L723.6,337.3 L723.8,339.4 L724.8,341.8 L724.7,344.5 L724.9,347.4 L724.2,350.1 L723.8,352.0 L723.5,355.2 L722.5,357.4 L721.9,360.0 L722.5,362.3 L721.4,365.2 L720.6,367.4 L720.5,369.7 L721.2,372.6 L720.4,375.3 L720.3,377.5 L720.2,379.7 L720.0,382.9 L718.2,384.6 L718.7,387.6 L719.0,390.2 L720.0,393.5 L720.7,396.0M733.5,312.1 L735.9,310.6 L738.5,309.5 L740.9,308.6 L743.6,308.0 L745.4,306.9 L747.7,305.6 L749.3,303.6 L751.6,302.4 L753.1,300.1 L756.1,298.8 L758.1,297.6 L761.0,297.6 L763.6,296.7 L766.1,295.3 L769.1,295.6 L771.7,295.0 L774.1,294.2 L776.2,293.8 L778.4,293.2 L780.8,292.2 L783.1,291.4 L785.5,291.4M785.4,291.2 L786.2,294.0 L788.2,296.9 L787.0,299.3 L785.2,301.3 L784.6,303.7 L786.7,305.6 L788.9,307.4 L791.3,308.8 L791.2,311.3 L790.2,314.7 L789.3,317.1 L787.6,318.7 L785.4,319.6 L783.4,321.5 L781.4,322.4 L780.6,324.5 L779.6,326.6 L778.1,329.0 L778.9,331.4 L779.9,334.6 L781.2,337.3 L782.4,339.6 L783.8,341.5 L784.5,344.0 L783.6,346.5 L781.7,348.4 L780.6,350.2 L779.4,352.3 L778.8,355.2 L777.4,358.2 L776.1,360.7 L777.4,363.2 L776.5,365.4 L777.6,367.5 L776.7,369.8 L776.6,372.3 L774.5,375.1 L773.6,377.5M773.7,377.5 L771.0,378.7 L768.4,380.5 L766.1,382.4 L763.2,383.6 L760.8,384.5 L757.7,385.8 L755.0,386.1 L752.0,386.2 L749.4,387.8 L747.3,388.6 L744.9,390.4 L742.8,391.1 L740.4,391.1 L737.2,392.2 L735.0,393.5 L732.7,393.7 L729.8,393.2 L727.8,394.5 L725.9,394.9 L723.3,395.6 L720.8,395.7M785.4,291.2 L783.5,288.5 L782.9,285.3 L782.4,282.8 L782.0,280.9 L781.5,278.5 L783.6,278.0 L786.6,276.9 L788.6,275.3 L791.3,275.2 L791.4,272.9 L791.9,270.2 L792.9,267.7 L795.3,267.5 L798.0,267.0 L798.9,270.0 L799.5,272.8 L802.4,273.0 L804.0,273.9 L806.4,274.3 L808.6,273.7 L810.5,272.7 L812.7,271.9 L814.9,270.4 L817.4,269.8 L820.4,269.8 L823.1,269.4 L825.8,268.8 L827.5,268.8 L830.1,268.0M773.7,377.5 L774.8,375.4 L777.8,374.7 L779.3,372.2 L782.9,371.9 L786.3,372.7 L788.5,370.7 L791.2,369.6 L794.6,369.0 L797.8,369.1 L800.5,369.4 L803.0,369.2 L806.2,371.0M806.4,370.8 L807.2,368.8 L807.3,366.3 L807.8,364.0 L810.7,363.0 L812.2,360.3 L814.9,359.2 L816.7,357.4 L818.4,356.1 L820.8,354.8 L823.2,354.1 L824.6,351.9 L826.8,350.6 L828.8,349.7 L830.2,347.6M806.4,370.8 L804.7,373.1 L803.7,375.3 L801.3,377.4 L801.0,380.2 L799.7,383.4 L798.2,385.9 L798.8,389.2M590.2,402.6 L591.8,404.6 L594.6,405.6 L595.8,407.9 L598.8,409.5 L601.9,411.0 L604.9,412.0 L607.2,412.6 L610.2,412.9 L612.9,413.6 L615.3,416.0 L616.4,418.2 L616.9,420.8 L617.0,422.7 L618.5,425.1 L620.6,426.2 L622.0,427.7 L623.9,429.3 L626.6,429.2 L628.6,428.9 L631.1,428.2 L633.7,427.7 L635.7,427.8 L638.2,426.6 L640.4,425.9 L642.8,426.5 L645.5,426.0M645.5,426.1 L648.4,426.2 L651.2,427.1 L653.9,427.7 L656.3,428.7 L659.0,427.9 L661.3,428.6 L663.9,429.7 L666.3,430.9 L668.8,431.8 L670.8,433.4 L672.7,433.9 L675.7,434.7 L677.2,436.4 L679.3,436.4 L682.0,437.8 L684.7,437.3 L686.6,438.4M686.5,438.7 L688.5,440.9 L689.0,443.3 L691.1,445.8 L692.3,447.9 L694.4,447.4 L696.4,446.1 L699.1,446.2 L701.3,445.8 L703.7,445.3 L705.8,444.6M705.8,444.5 L706.6,441.7 L707.5,439.5 L707.5,436.2 L706.9,433.6 L705.9,431.1 L706.7,428.8 L707.2,426.0 L709.2,424.3 L710.9,421.9 L708.3,421.0 L705.8,420.3 L708.1,419.6 L711.2,420.1 L713.2,419.3 L715.9,419.4 L718.5,421.0 L720.8,422.9 L723.6,421.9 L725.9,420.7 L727.6,419.4 L729.2,417.7M720.9,395.9 L722.3,397.7 L723.8,399.6 L725.9,401.0 L727.0,403.1 L728.8,404.9 L729.3,407.6 L729.0,409.8 L729.8,412.7 L730.8,414.4 L729.4,417.8M729.3,417.7 L732.3,418.9 L734.0,420.4 L735.8,423.0 L737.6,424.8 L738.7,426.3 L741.0,427.8 L744.0,428.2 L746.8,430.1 L749.4,431.0 L751.4,431.7 L753.8,431.3 L756.5,432.3 L758.7,432.8 L761.1,433.1 L763.7,433.4 L765.8,433.8 L768.7,433.1 L771.2,433.7 L773.4,435.0 L776.2,434.1 L777.9,435.3 L779.3,438.3 L779.5,441.2 L781.5,443.4 L784.3,444.2 L786.3,446.2 L789.2,447.1 L791.9,447.8 L794.7,449.3 L797.7,449.9 L800.0,452.1 L802.9,453.2 L804.7,454.8 L806.9,456.2 L808.1,457.9 L809.8,459.5 L812.3,460.9 L814.8,461.1 L815.4,463.4 L817.1,465.6 L818.2,467.9 L817.3,470.1 L816.2,472.2 L814.6,474.6M797.2,386.7 L800.2,387.7 L803.0,389.0 L805.2,390.3 L806.8,393.4 L808.4,396.1 L811.3,396.9 L813.8,396.6 L817.0,396.7 L820.4,396.0 L823.6,395.6 L824.7,391.8 L827.3,390.6 L830.4,390.9 L832.6,393.5 L835.6,394.9 L836.7,396.8 L838.7,398.5 L841.9,397.7 L844.2,397.3 L847.1,396.6 L849.5,396.7 L851.5,394.7 L853.9,394.4 L856.8,395.4 L860.6,395.0 L863.0,393.4 L865.4,391.3 L867.1,389.0 L869.3,387.9 L871.9,387.7 L874.4,387.1 L877.2,386.4M823.7,395.9 L820.3,398.4 L822.1,399.8 L825.3,400.1 L827.2,401.5 L827.2,404.4 L826.3,406.8 L824.0,405.9 L821.7,406.0 L818.9,406.3 L817.0,405.2 L814.8,405.6 L812.5,407.5 L810.4,408.7 L810.0,411.6 L808.3,413.4 L806.3,414.6 L804.9,416.7 L803.6,418.6 L801.3,420.8 L798.6,421.9 L799.8,424.3 L802.0,426.8 L804.2,428.3 L805.3,430.3 L807.9,431.2 L809.5,432.5 L812.0,433.6 L813.8,432.1 L816.9,431.7 L815.6,434.3 L815.7,436.8 L815.3,438.7 L813.7,439.9 L812.0,442.2 L810.3,443.7 L808.5,445.1 L806.9,447.0 L807.4,449.5 L807.0,452.1 L808.8,453.1 L811.8,454.0 L813.7,455.2 L814.3,458.6 L814.6,461.2 L815.1,463.8 L815.1,466.1 L816.6,468.4 L817.3,470.4 L817.5,472.5 L818.1,475.2 L818.4,477.3M838.8,398.4 L838.8,401.8 L840.8,403.5 L843.7,405.2 L845.0,407.8 L847.2,409.3 L848.8,411.4 L850.7,413.4 L851.5,417.1 L851.3,420.2 L853.3,422.5 L853.7,425.4 L855.7,426.5 L857.7,428.1 L860.6,428.6 L862.5,427.6 L864.6,426.1 L867.2,425.0 L870.3,426.3 L872.2,428.7 L870.6,430.8 L869.0,432.0 L866.1,431.1 L863.9,430.2 L862.2,433.0 L860.4,435.2 L861.3,437.1 L861.3,440.1 L862.2,442.0 L863.8,444.5 L864.1,447.0 L865.2,449.9 L867.2,452.1 L869.6,451.9 L871.3,453.5 L874.0,453.4 L877.2,454.5 L879.8,455.5M879.8,455.4 L882.1,455.5 L885.0,457.2 L887.3,457.2 L890.0,457.9 L892.0,458.5 L894.1,460.3 L896.7,459.6 L899.0,456.9 L901.7,458.4 L904.2,458.6M904.1,458.8 L902.5,456.2 L902.8,453.6 L905.4,452.6 L907.3,450.2 L909.5,448.9 L911.0,447.2 L913.2,446.9 L915.5,446.7 L917.5,445.3M879.8,455.4 L878.7,457.8 L877.9,460.2 L877.5,462.2 L874.9,464.5 L874.1,467.2 L871.8,469.5 L868.9,470.4 L867.6,472.6 L867.4,475.1 L867.5,477.3 L864.9,478.6 L863.2,480.8 L860.6,482.3 L857.8,483.6 L855.6,485.7M855.5,485.6 L852.4,484.4 L850.6,482.1 L848.3,480.5 L845.9,480.7 L843.8,478.9 L841.2,478.3 L839.5,477.8 L837.1,476.4 L835.4,478.8 L832.0,480.5 L829.5,480.4 L827.0,480.9 L828.0,478.1 L828.6,475.5 L826.6,476.7 L823.7,477.2 L821.1,477.4 L818.7,477.1M818.7,477.2 L815.9,478.2 L812.9,478.8 L810.3,479.1 L807.3,479.3 L804.6,479.5 L801.8,480.3 L798.6,481.0 L796.6,482.9 L793.5,483.8 L791.5,485.6 L788.7,487.1 L785.7,488.0 L783.4,488.8M782.6,489.8 L780.8,487.9 L778.8,486.4 L776.6,484.1 L777.8,481.7 L777.3,478.8 L775.2,478.1 L772.6,478.4 L770.1,478.6 L768.0,481.1 L765.0,482.2 L761.9,482.1 L760.0,480.7M782.6,489.8 L783.3,492.1 L785.4,494.2 L785.8,497.4 L784.8,500.9 L785.1,504.0 L783.3,506.4 L780.8,507.5 L778.7,508.9 L776.9,510.9 L777.0,513.8 L776.0,517.4 L778.5,520.0 L780.3,522.3 L780.2,525.0 L782.0,528.3 L782.0,530.8 L782.8,533.8 L784.1,536.2 L785.4,539.1 L783.8,541.2 L782.6,543.9 L782.0,546.1 L782.2,548.6 L781.6,551.7 L782.8,554.3M782.6,554.3 L784.8,554.7 L787.3,555.4 L790.2,555.7 L792.7,556.8 L795.3,557.5 L793.5,560.0 L791.7,562.6 L790.0,565.1 L787.7,566.1 L790.3,569.3 L792.7,568.6 L795.4,567.8 L797.6,567.7 L800.2,567.4 L803.4,567.0 L805.4,566.1 L808.6,566.1 L811.4,565.1 L814.4,563.3M814.5,563.5 L815.2,561.5 L815.0,558.5 L817.0,556.5 L817.2,554.4 L817.6,551.5 L819.4,548.7 L820.4,546.0 L821.6,544.1 L822.3,541.8 L823.5,539.2 L825.1,537.4 L826.3,534.4 L825.4,531.5 L826.3,529.2 L827.6,526.2 L830.3,524.1 L831.2,522.2 L832.3,520.1 L834.1,517.8 L835.3,515.7 L838.8,515.2 L841.2,513.4 L843.8,512.3 L846.7,511.7 L848.9,510.0 L851.0,509.1 L853.8,508.2 L856.6,505.9 L859.6,504.7M859.7,504.9 L859.4,502.1 L859.3,499.5 L859.0,497.3 L857.3,494.7 L855.6,492.4 L853.9,490.6 L855.0,488.1 L855.6,485.6M859.7,504.9 L860.4,507.1 L862.9,508.5 L864.0,510.7 L864.8,513.2 L866.8,514.6 L867.2,517.5 L870.2,517.8 L872.5,518.4 L875.6,519.2 L878.3,518.3 L880.7,515.8 L882.2,518.5 L884.0,520.8 L886.0,522.8 L887.2,524.3M814.5,563.5 L817.0,563.6 L819.3,564.2 L820.9,565.0 L823.7,564.2 L826.4,565.8 L827.5,568.1 L830.4,569.4 L831.0,572.6 L832.6,575.3 L833.5,577.9 L835.1,580.5 L835.2,582.8 L835.3,585.3M782.6,554.3 L779.9,554.7 L776.8,554.0 L774.3,553.2 L772.0,553.8 L770.1,552.5 L767.0,553.8 L765.1,556.1 L763.1,558.1 L760.1,559.5M527.5,498.7 L529.4,500.3 L531.9,501.8 L532.6,499.5 L534.8,498.7 L535.9,496.2 L537.2,498.6 L540.0,500.3 L542.0,501.8 L542.6,504.6 L543.9,506.3 L545.8,508.6 L547.1,510.2 L549.3,510.3 L550.8,512.2 L553.6,511.9 L555.0,514.3 L556.0,516.4 L557.8,517.7 L558.5,520.5 L559.4,522.4 L561.7,524.0 L562.6,526.3 L564.2,527.9 L565.2,530.6 L565.9,533.1 L567.0,534.8 L568.8,536.8 L570.1,539.0 L572.8,540.8 L575.2,542.5 L578.1,542.0 L580.5,540.0 L583.7,538.9 L586.5,537.5 L588.8,537.1 L592.1,536.6 L592.2,533.5 L593.8,530.5 L592.4,527.6 L593.1,525.2 L592.1,522.1 L593.3,520.0 L594.8,518.4 L597.1,517.0 L598.8,515.5 L600.6,513.8 L600.9,511.3 L602.8,509.4 L603.6,506.9 L605.0,504.5 L607.6,503.0 L609.0,500.5 L611.1,499.7 L613.1,498.8 L615.6,498.8 L616.8,500.7 L617.0,502.9 L617.3,505.3 L619.3,507.6 L620.8,510.2 L623.7,509.6 L627.2,509.3 L629.7,511.4 L632.2,512.3M632.3,512.1 L632.9,514.3 L632.4,517.1 L629.2,518.3 L626.2,518.9 L624.0,520.8 L621.5,521.3 L619.3,520.6 L616.7,520.7 L613.9,520.2 L611.4,522.0 L608.2,523.3 L605.6,524.0 L604.7,527.2 L605.8,529.0 L605.6,532.1 L607.0,533.9 L609.8,534.3 L611.5,535.8 L613.9,535.4 L616.5,536.0 L618.6,537.9 L620.4,539.2 L619.1,540.7 L617.5,543.1 L617.5,545.7 L618.9,548.6 L619.1,551.5 L620.5,554.0 L622.6,556.2 L623.2,558.5 L623.9,560.7 L622.2,563.2 L620.3,565.5M632.3,512.1 L635.0,512.6 L637.6,512.7 L640.7,512.0 L643.1,511.8 L645.8,511.9 L649.1,512.4 L648.7,509.4 L647.1,507.1 L644.8,506.2 L643.1,505.3 L640.6,503.7 L640.8,501.5 L640.6,498.7M640.7,498.7 L643.1,498.1 L645.5,497.3 L647.3,496.8 L649.2,497.9 L651.7,498.8 L654.1,498.4 L656.8,498.5 L658.7,496.9 L660.9,497.3 L663.1,495.0 L665.5,493.9 L667.4,491.9 L669.8,490.4 L672.5,490.0 L674.1,488.3 L676.6,489.3 L678.4,489.2 L680.8,490.5 L683.3,492.5 L686.0,493.5 L687.3,496.1 L688.9,498.0 L689.1,500.4 L691.3,502.2 L692.7,504.1 L694.4,505.2 L696.4,505.7 L699.0,506.5 L700.9,507.4M640.7,498.7 L643.1,496.3 L644.3,493.8 L642.6,490.7 L640.4,488.8 L638.3,487.1 L635.5,485.6 L633.9,483.6 L634.3,481.3 L635.7,478.7 L637.2,476.2 L637.3,473.5 L638.3,471.0 L640.8,468.6 L643.0,469.0 L645.3,469.2 L647.2,470.1 L650.4,469.4 L652.4,470.0 L655.0,471.1 L657.8,472.5 L660.3,473.3 L662.4,475.3 L663.6,472.8 L664.8,470.8 L665.6,468.7 L667.5,466.8 L669.3,465.3 L670.3,462.9 L672.8,462.4 L674.0,460.0 L675.9,458.3 L676.8,455.8 L679.6,453.7 L681.0,451.8 L682.9,449.9 L684.5,448.9 L686.1,446.3 L687.8,445.2 L687.0,442.3 L685.8,440.0M701.0,507.0 L700.5,504.8 L700.9,502.2 L701.8,499.9 L702.3,498.1 L701.6,495.3 L699.9,493.7 L699.5,490.7 L698.0,489.0 L695.9,487.0 L694.8,484.5 L692.9,482.2 L691.0,480.2 L689.1,477.8 L689.5,474.4 L687.5,471.9 L689.3,469.5 L689.4,466.9 L692.2,466.2 L694.6,465.6 L697.6,465.0 L700.4,463.5 L702.7,462.4 L706.0,461.8 L708.8,461.1 L710.5,459.4 L712.1,457.6 L714.2,456.5 L715.5,454.6 L716.7,451.6 L714.4,449.7 L712.7,446.7 L711.0,445.6 L708.7,443.5 L708.0,440.8 L705.9,440.2M701.8,490.3 L702.6,487.7 L703.1,486.0 L705.4,483.8 L706.3,482.0 L708.8,481.9 L712.1,481.1 L714.5,480.5 L717.6,480.4 L720.3,479.6 L722.8,478.5 L723.7,474.4 L726.2,475.1 L728.6,473.6 L731.2,474.6 L733.3,475.3 L735.7,476.2 L737.9,475.9 L740.3,477.3 L743.0,477.1 L744.6,478.5 L746.8,480.1 L750.1,480.4 L753.0,481.7 L756.0,482.2 L758.9,482.2 L761.3,481.6 L763.8,480.6M620.6,565.7 L623.1,566.2 L625.3,567.3 L627.2,567.6 L629.7,565.6 L632.1,564.4 L634.0,562.4 L636.3,563.6 L638.2,562.8 L640.6,564.2 L643.8,564.6 L647.4,564.3 L649.6,562.9 L651.6,560.1 L654.1,559.1 L657.0,557.2 L659.7,556.2 L662.6,555.9 L664.8,553.3 L667.5,552.3 L669.2,554.1 L671.6,554.6 L673.3,556.5 L675.7,557.6 L678.8,555.9 L681.5,555.4 L684.3,555.9 L686.4,554.2 L688.3,553.4 L691.1,552.5 L693.4,551.0 L694.8,549.5 L697.6,548.8 L699.9,547.9 L701.6,545.0 L704.3,543.8M701.0,507.0 L701.1,509.7 L702.6,511.6 L702.8,513.7 L701.7,516.0 L702.3,518.4 L701.1,520.5 L699.4,523.0 L697.5,525.4 L700.0,527.0 L701.9,529.4 L704.5,530.3 L704.6,533.7 L703.2,537.2 L704.2,540.9 L704.0,543.9M704.4,543.9 L706.6,543.7 L708.9,543.2 L711.1,542.5 L713.4,541.7 L715.7,541.4 L717.7,540.3 L720.0,540.1 L722.5,539.7 L724.4,538.7 L727.1,538.7 L730.0,539.7 L732.8,538.8 L734.0,542.0 L736.0,544.0 L737.9,547.3 L738.0,549.5 L737.5,551.8 L736.2,554.0 L734.3,556.0 L733.0,557.1 L731.3,559.1 L732.6,560.9 L734.6,562.3 L737.9,560.7 L738.9,563.3 L739.5,565.7M739.6,565.7 L741.6,563.4 L744.5,562.2 L746.9,561.4 L749.6,560.3 L751.4,559.1 L754.1,558.6 L756.9,557.2 L759.6,557.1M739.6,565.7 L742.5,566.7 L745.6,567.7 L747.9,569.1 L746.7,571.3 L746.9,574.5 L746.2,577.4 L744.9,580.2 L743.3,582.7 L743.0,585.8 L740.9,587.2 L739.6,589.7 L738.0,591.0 L737.4,593.4 L734.9,595.3 L734.3,597.4 L732.2,599.1 L730.5,601.0 L727.8,602.6 L725.7,603.9 L723.7,605.5 L722.8,607.6 L721.6,609.7 L719.8,612.0 L719.6,614.4 L717.2,615.6 L716.1,618.0 L714.5,619.4 L711.7,620.3 L709.3,621.8M620.6,565.7 L622.6,568.1 L625.0,569.0 L627.2,570.8 L629.1,571.9 L631.6,572.9 L633.9,574.2 L636.4,573.9 L638.9,574.5 L641.8,575.5 L644.0,575.8 L646.1,577.8 L648.3,579.0 L647.0,581.8 L645.9,584.2 L642.6,585.7 L640.5,587.3 L638.2,589.6 L635.7,590.2M916.0,77.5 L914.6,79.8 L912.9,81.0 L910.6,82.6 L908.9,84.5 L907.2,86.2 L909.4,88.0 L911.7,89.2 L913.9,90.0 L916.1,91.0 L918.4,90.2 L920.8,91.0 L923.4,91.1 L926.0,90.0 L928.9,91.8 L931.2,92.7 L933.4,95.1 L934.5,97.7 L935.9,101.0 L936.0,103.7 L937.8,105.8 L939.4,108.2 L942.2,110.1 L944.4,108.9 L947.2,108.8 L949.4,108.6 L951.1,107.6 L953.7,108.8 L955.9,107.2 L958.3,106.4 L960.9,106.1 L963.4,104.9 L965.7,104.5 L968.5,103.8 L971.1,103.6 L973.5,103.5 L976.3,102.3 L978.5,102.2 L980.6,104.1 L982.2,106.0 L983.6,108.4 L986.0,110.0 L987.5,112.4 L989.8,115.0 L988.6,117.3 L986.1,118.7 L984.7,119.9 L983.5,122.5 L981.8,124.2 L979.9,126.0 L978.7,127.8 L977.6,130.7 L975.8,132.4 L974.9,135.3 L973.6,137.3 L972.7,139.9 L972.5,143.1 L970.8,144.9 L969.0,146.0 L967.6,147.7 L966.0,150.0 L965.6,152.6 L964.7,155.1 L963.8,157.7 L962.8,159.7 L962.4,162.6 L960.7,160.3 L959.7,157.5 L957.3,158.9 L955.0,159.2 L953.2,161.6 L951.1,163.3 L948.7,164.0 L946.3,164.9 L944.1,166.6 L942.8,167.6 L940.7,169.2 L937.7,169.8 L936.1,171.3 L933.9,172.1 L932.5,174.8 L930.1,176.1 L928.6,177.6 L929.6,179.8 L931.3,181.3 L933.4,182.5 L933.7,184.7 L936.1,186.2 L938.6,185.2 L942.1,185.0 L944.7,183.5 L947.1,187.6 L945.1,188.0 L943.2,190.8 L940.3,190.7 L938.5,192.5 L941.1,196.2 L943.9,196.0 L946.2,195.8 L948.8,195.2 L951.0,195.2M951.0,195.0 L952.6,197.4 L954.8,200.2 L955.9,202.6 L958.4,203.5 L959.9,205.6 L962.1,207.1 L963.5,208.7 L965.9,209.1 L968.6,208.9 L971.0,208.1 L973.6,208.5 L976.0,207.5 L978.6,208.5 L981.1,209.6 L983.4,210.7 L986.0,212.4 L988.7,212.0 L991.4,212.3 L993.3,212.9 L995.8,213.6 L998.5,213.9 L1000.5,215.6 L1001.8,216.5 L1002.6,219.5 L1004.9,220.6 L1006.1,222.4 L1008.3,223.3 L1011.1,224.3 L1013.4,225.2 L1015.5,227.3 L1016.9,230.3 L1018.5,232.5 L1021.1,230.8 L1022.1,228.7 L1024.7,227.4 L1026.0,225.0 L1027.3,227.2 L1029.2,228.9 L1030.9,230.3 L1032.5,232.3 L1033.6,234.7 L1035.2,236.6 L1036.2,237.8 L1038.7,239.6 L1040.0,241.1 L1042.8,240.5 L1044.3,238.3 L1047.5,237.8 L1049.6,236.0 L1051.8,235.9 L1054.4,235.8 L1056.2,234.0 L1058.9,233.4 L1061.1,234.0 L1061.9,235.4 L1063.3,237.6 L1065.5,239.3 L1066.7,240.6 L1068.6,242.4 L1071.0,242.9 L1074.5,242.3 L1076.6,242.3 L1079.8,242.6M941.0,196.2 L938.5,198.5 L936.1,200.1 L933.1,200.4 L931.1,202.2 L928.5,202.5 L925.5,202.6 L923.4,201.7 L920.5,201.7 L918.5,199.7 L916.0,200.2 L917.3,202.0 L919.0,203.5 L921.3,205.5 L922.2,207.5 L921.6,210.2 L921.9,212.6 L921.8,215.2 L921.3,217.8 L921.1,220.0 L923.3,221.3 L926.2,222.5 L928.7,224.7 L930.9,225.5 L933.0,226.8 L935.5,227.6 L938.4,227.7 L940.1,229.4 L941.4,231.9 L943.7,233.3 L944.7,236.3 L945.1,239.9 L946.2,242.5 L947.4,245.2 L949.7,247.5M949.8,247.5 L952.5,246.3 L955.6,246.6 L958.5,245.0 L959.8,247.9 L962.1,250.1 L965.3,249.5 L968.5,248.9 L969.5,251.0 L970.1,253.2 L971.8,255.8 L973.4,257.6 L975.3,260.2 L977.6,262.2 L978.3,265.1 L979.3,267.7 L979.4,270.1 L979.9,272.6 L981.3,274.9 L981.8,277.5 L983.0,279.3 L982.6,281.5 L983.4,284.1 L984.8,286.2M949.8,247.5 L947.3,248.5 L945.8,250.2 L943.0,251.5 L940.8,252.2 L938.2,252.8 L935.6,253.5 L933.9,254.9 L930.9,254.8 L928.6,256.3 L925.7,256.2 L923.7,256.2 L921.2,257.7 L918.5,257.5 L916.4,258.6 L914.8,260.2 L912.2,260.0 L910.6,262.0 L907.5,262.2 L906.0,263.8 L903.7,264.7 L900.5,264.7 L898.0,265.4 L896.2,266.4 L893.4,267.2 L890.8,268.1 L888.9,267.7 L886.2,267.2 L883.8,266.8 L881.0,267.4 L879.2,266.5 L876.8,265.4 L874.8,263.6 L873.8,267.0 L874.5,269.4 L873.6,272.5 L874.9,274.6 L875.4,277.3 L877.2,280.0M830.0,267.7 L830.9,265.3 L832.8,263.2 L834.9,261.3 L836.9,261.1 L839.1,261.1 L841.4,259.6 L845.1,259.7 L848.3,259.3 L850.5,261.3 L852.5,263.1 L853.2,265.9 L854.9,267.4 L856.6,270.4 L857.9,272.8 L859.4,274.8 L861.8,275.8 L864.8,275.9 L867.4,276.9 L870.4,274.7 L873.0,273.0M872.9,272.8 L874.3,275.0 L874.6,277.3 L875.8,279.5 L873.4,282.4 L872.7,285.0 L874.3,286.7 L876.6,288.4 L878.5,290.3 L879.4,292.6 L880.1,294.7 L881.3,297.3 L880.6,300.6 L881.9,303.5M872.9,272.8 L873.2,270.6 L873.7,268.5 L874.4,266.0M828.3,287.1 L827.5,288.9 L825.2,289.4 L823.9,291.4 L822.2,290.8 L820.6,292.5 L819.1,294.0 L816.5,294.4 L813.0,295.6 L812.8,297.1 L815.1,299.0 L815.9,300.6 L814.0,301.9 L810.6,303.3 L807.3,304.3 L807.2,306.5 L808.9,308.5 L807.5,309.2 L809.1,310.9 L812.6,311.8 L814.0,313.0 L817.1,312.6 L820.7,312.2 L823.7,313.5 L826.1,311.7 L828.6,310.7 L830.3,310.9 L832.1,308.8 L833.7,307.3 L832.7,306.0 L829.8,306.7 L830.0,304.5 L832.3,303.6 L835.4,303.5 L836.9,303.2 L839.3,301.3 L840.4,300.0 L838.7,299.2 L837.4,297.5 L838.2,295.6 L840.5,294.5 L841.9,293.6 L839.4,293.2 L836.4,293.0 L833.8,293.5 L831.4,291.4 L829.4,289.4 L828.5,287.0M830.3,311.2 L831.0,314.1 L831.5,316.5 L831.1,318.9 L829.2,320.8 L828.6,323.4 L830.0,325.3 L832.4,326.2 L834.9,326.7 L836.4,327.9 L838.3,327.1 L840.9,328.1 L843.0,327.7M840.4,300.0 L842.5,300.6 L844.3,302.7 L846.7,303.8 L845.3,305.3 L843.0,305.1 L842.3,307.4 L844.1,309.9 L845.0,312.0 L848.1,311.6 L848.4,314.0 L848.3,316.0 L847.4,318.9M836.9,303.0 L837.6,304.9 L836.5,307.5 L833.8,307.8 L833.6,307.5M869.4,283.0 L867.4,287.1 L866.0,288.7 L865.3,290.5 L865.0,291.6 L866.9,292.9 L869.3,294.3 L871.4,295.5 L874.5,296.0 L876.7,297.2 L877.7,299.4 L879.7,300.8 L880.0,303.0 L881.7,303.8 L883.1,303.5M847.0,333.4 L845.7,336.0 L842.9,337.8 L840.4,339.3 L836.4,340.0 L832.3,340.3 L829.3,341.5 L826.7,343.4 L824.2,345.8 L822.0,345.1 L820.8,347.0 L818.6,347.8 L816.6,349.0 L814.9,351.3 L814.7,353.2 L814.2,355.2 L812.0,357.2" fill="none" stroke="#2e2e2e" stroke-width="1.05" stroke-linejoin="round"/>
<path d="M898.3,471.3 L899.4,471.6 L902.5,471.4 L904.2,471.8 L904.7,473.5 L907.6,473.1 L910.2,472.6 L910.8,473.9 L913.4,473.5 L915.0,473.7 L915.7,476.9 L917.8,475.8 L919.9,477.5 L918.0,479.4 L919.6,480.9 L918.8,481.3 L918.1,482.8 L919.5,485.3 L918.8,487.4 L917.0,487.8 L914.0,488.4 L915.4,490.8 L915.2,492.9 L914.6,494.0 L914.7,495.7 L913.9,496.7 L913.5,499.3 L911.6,499.1 L910.3,500.2 L911.9,503.1 L912.9,504.7 L910.9,506.2 L908.8,507.6 L907.2,506.8 L905.8,509.1 L905.6,511.5 L903.7,512.1 L902.4,513.7 L900.8,514.0 L899.4,516.3 L898.6,517.8 L895.8,518.4 L896.3,519.7 L894.2,520.9 L893.5,523.0 L890.7,524.1 L889.4,524.6 L888.8,527.7 L886.5,528.3 L886.5,530.5 L884.3,531.7 L883.5,532.2 L883.4,533.4 L883.5,535.5 L883.5,537.6 L883.5,540.2 L881.2,540.3 L881.0,542.7 L878.6,543.9 L879.3,545.3 L877.9,547.6 L879.0,549.3 L878.9,551.7 L877.0,553.0 L875.3,554.8 L874.9,555.6 L872.4,556.1 L870.2,555.5 L869.1,558.5 L867.6,559.8 L866.4,560.3 L865.7,562.8 L863.3,564.0 L862.6,565.5 L861.2,566.9 L859.1,568.1 L857.3,569.5 L856.2,570.1 L854.2,571.6 L851.7,571.8 L850.7,574.6 L847.7,575.5 L848.1,576.6 L846.0,578.3 L844.9,578.8 L843.6,582.3 L842.1,582.8 L840.1,584.7 L839.6,584.8 L836.1,584.4 L835.3,585.0" fill="none" stroke="#111" stroke-width="1.1" stroke-linejoin="round"/>
<path d="M898.3,471.3 L899.8,470.3 L902.5,471.2 L904.1,472.7 L906.8,471.8 L907.9,473.6 L910.7,474.3 L913.1,474.2 L915.1,476.3 L917.5,476.5 L919.9,478.0 L920.4,480.4 L918.6,482.9 L918.5,485.1 L917.9,487.1 L915.7,487.4 L914.2,489.1 L915.8,491.7 L915.8,492.7 L914.9,495.7 L912.7,496.4 L913.2,499.0 L911.1,500.9 L911.9,502.5 L912.7,504.8 L909.0,505.5 L907.3,506.9 L906.9,509.7 L906.0,511.2 L904.1,512.4 L902.4,514.1 L900.9,515.5 L899.0,515.5 L897.6,516.8 L896.2,520.1 L893.7,520.4 L892.7,523.1 L890.5,523.9 L889.0,524.5 L888.9,527.1 L886.4,528.2 L885.5,530.8 L884.3,532.7 L883.3,534.7 L883.2,537.6 L881.5,540.5 L881.0,542.7 L879.5,544.1 L880.3,547.5 L879.4,549.4 L876.7,550.8 L876.7,552.8 L873.9,554.0 L872.0,555.6 L870.8,557.0 L868.6,557.2 L867.0,559.0 L866.5,561.1 L864.1,562.5 L864.2,564.5 L861.5,565.5 L860.6,566.8 L858.8,567.6 L857.0,568.3 L856.1,570.0 L853.8,571.0 L852.2,573.3 L850.8,574.7 L848.9,575.0 L846.7,576.8 L846.4,578.7 L845.9,580.5 L843.6,582.4 L841.9,582.6 L840.9,584.6 L837.7,584.3 L835.4,585.3" fill="none" stroke="#111" stroke-width="0.9" stroke-linejoin="round"/>
<path d="M780.4,603.7 L791.5,603.7 L791.5,610.4 L780.4,610.4Z" fill="#fff" stroke="#2a2a2a" stroke-width="0.9"/>
</g>
<clipPath id="insclipa"><rect x="484.0" y="19.3" width="229.5" height="198.7"/></clipPath>
<clipPath id="insclipb"><rect x="483.7" y="13.7" width="228.6" height="203.2"/></clipPath>
<clipPath id="insclipc"><rect x="480.8" y="4.2" width="229.5" height="211.1"/></clipPath>
<g id="insbase">
<rect x="454.0" y="-10.7" width="289.5" height="258.7" fill="#f9f5f1"/>
<path d="M713.5,70.1 L706.3,73.1 L695.8,79.1 L688.3,83.6 L680.8,94.1 L679.3,100.1 L671.8,107.6 L665.8,112.1 L650.7,113.6 L635.7,118.2 L628.2,119.7 L622.2,115.2 L613.2,113.6 L607.2,115.2 L601.2,121.2 L596.7,130.2 L593.7,137.7 L595.2,145.2 L601.2,152.7 L605.7,158.7 L610.2,163.2 L616.2,172.2 L623.7,171.5 L631.2,167.7 L640.2,169.2 L647.7,171.5 L650.7,166.2 L658.3,164.7 L664.3,169.2 L665.8,175.2 L671.8,176.7 L670.3,184.3 L665.8,187.3 L662.8,194.8 L659.8,202.3 L661.3,208.3 L667.3,212.8 L674.8,215.8 L685.3,216.5 L695.8,215.8 L706.3,212.8 L712.3,206.8 L710.8,203.0 L713.5,203.8 L743.5,203.8 L743.5,70.1Z" fill="#fff" stroke="none"/>
<path d="M713.5,70.1 L706.3,73.1 L695.8,79.1 L688.3,83.6 L680.8,94.1 L679.3,100.1 L671.8,107.6 L665.8,112.1 L650.7,113.6 L635.7,118.2 L628.2,119.7 L622.2,115.2 L613.2,113.6 L607.2,115.2 L601.2,121.2 L596.7,130.2 L593.7,137.7 L595.2,145.2 L601.2,152.7 L605.7,158.7 L610.2,163.2 L616.2,172.2 L623.7,171.5 L631.2,167.7 L640.2,169.2 L647.7,171.5 L650.7,166.2 L658.3,164.7 L664.3,169.2 L665.8,175.2 L671.8,176.7 L670.3,184.3 L665.8,187.3 L662.8,194.8 L659.8,202.3 L661.3,208.3 L667.3,212.8 L674.8,215.8 L685.3,216.5 L695.8,215.8 L706.3,212.8 L712.3,206.8 L710.8,203.0 L713.5,203.8" fill="none" stroke="#222" stroke-width="1" stroke-linejoin="round"/>
<path d="M550.1,19.3 L549.0,22.2 L548.7,25.1 L546.0,25.1 L543.8,26.0 L541.1,26.6 L539.9,29.6 L538.1,32.5 L535.1,32.0 L532.0,31.2 L530.0,33.7 L527.6,35.6 L525.5,37.7 L522.9,39.9 L520.5,41.0 L518.3,41.5 L515.6,41.6 L512.8,42.4 L510.2,43.0 L507.9,44.2 L505.1,44.6 L503.5,49.1 L505.9,50.9 L508.6,52.6 L511.2,54.9 L512.6,57.6 L514.0,59.6 L512.2,61.3 L510.1,62.5 L508.0,64.0 L505.6,65.0 L503.0,66.0 L500.1,65.9 L497.5,67.0 L495.4,68.2 L493.1,69.5 L490.8,70.6 L488.6,71.8 L487.9,74.4 L487.0,77.6 L489.1,79.8 L490.9,82.0 L493.0,83.6 L488.5,85.2 L489.6,87.2 L491.5,88.9 L492.9,91.2 L495.8,92.2 L498.5,92.4 L500.9,93.6 L503.5,94.1 L505.6,95.9 L507.9,97.3 L511.1,97.1 L514.0,96.2 L517.1,95.8 L519.7,95.6 L522.2,94.8 L525.0,94.6 L527.6,94.2 L529.9,95.3 L532.3,95.9 L534.3,97.7 L536.5,98.7 L539.1,96.8 L541.9,96.0 L544.2,94.2 L546.3,92.9 L549.0,91.9 L551.7,91.3 L556.1,91.8 L558.5,89.8 L559.6,87.2 L562.3,85.2 L564.5,82.8 L566.7,80.7 L565.1,78.7 L563.7,76.0 L560.6,76.2 L557.8,76.9 L554.6,77.4 L554.7,74.4 L554.7,71.6 L556.9,70.7 L559.8,70.0 L562.1,69.3 L565.0,69.1 L568.0,68.5 L571.1,68.5 L575.6,67.1 L578.3,66.0 L580.6,63.8 L583.2,62.7 L584.4,60.3 L586.1,58.1 L583.8,57.0 L581.7,55.0 L579.3,53.1 L577.2,50.5 L577.9,47.5 L578.7,44.6 L581.4,43.7 L583.6,43.1 L586.2,41.6 L588.0,40.1 L590.6,39.2 L588.3,39.2 L585.5,38.5 L583.2,37.7 L580.1,37.5 L577.1,37.0 L574.1,37.2 L571.8,37.6 L568.9,38.1 L566.7,38.7 L564.0,36.7 L561.8,34.5 L559.1,32.6 L557.0,30.4 L554.7,28.7 L553.1,26.5 L552.5,24.0 L551.3,21.9 L550.0,19.4M556.1,91.9 L556.9,94.6 L558.2,97.6 L559.1,100.1 L559.5,102.7 L560.4,105.3 L560.7,107.6 L560.6,110.2 L559.7,112.5 L559.1,115.2 L557.3,117.6 L555.2,119.1 L553.1,121.1 L552.5,123.6 L551.8,126.1 L551.4,128.6 L552.9,131.9 L554.7,134.6 L557.3,136.0 L559.3,136.9 L562.2,137.6 L564.7,137.2 L567.2,138.1 L569.6,137.8 L571.9,140.0 L574.1,142.2 L577.0,141.8 L580.1,140.7 L582.4,141.3 L585.3,141.8 L587.7,142.0 L590.8,142.4 L593.7,142.3M586.2,58.1 L589.1,59.7 L592.2,60.4 L594.2,62.0 L596.0,63.9 L598.1,65.7 L600.1,67.1 L602.3,68.7 L604.1,70.2 L602.4,72.3 L601.3,74.7 L598.8,74.6 L596.1,74.0 L593.6,73.3 L593.2,75.7 L592.7,78.3 L592.2,80.6 L593.6,83.0 L595.5,85.5 L596.8,88.0 L598.4,90.9 L599.6,94.2 L602.6,94.1 L605.9,92.8 L608.7,92.7 L608.9,95.4 L609.5,97.5 L610.0,100.2 L609.1,102.8 L608.5,106.1 L608.1,109.0 L607.7,112.1 L607.1,115.1M575.6,67.1 L576.4,69.9 L577.0,73.1 L576.4,75.5 L575.0,77.9 L574.1,80.6 L571.8,81.1 L568.9,81.2 L566.7,82.3 L566.8,80.6M671.8,7.0 L670.4,9.5 L669.2,11.7 L668.4,14.3 L666.6,16.9 L665.7,19.3 L663.2,21.5 L661.3,23.5 L660.6,26.4 L659.6,29.5 L658.4,32.6 L660.6,33.9 L662.4,35.1 L664.3,37.0 L666.8,37.8 L669.5,38.6 L671.8,39.9 L673.8,41.3 L675.6,43.1 L677.8,44.6 L680.9,44.6 L684.0,45.4 L686.8,45.9 L689.1,47.5 L691.1,48.7 L692.8,50.6 L694.4,53.3 L695.8,56.6 L697.9,57.5 L699.9,59.4 L701.9,61.0 L702.4,64.1 L703.3,67.1 L705.6,68.7 L707.7,70.2 L712.3,69.4M605.7,158.7 L604.0,161.1 L603.0,164.1 L601.2,166.2 L598.9,168.7 L596.0,170.4 L593.7,172.3 L591.0,173.9 L588.3,174.9 L586.2,176.8 L583.0,177.2 L580.1,177.1 L577.1,177.7 L574.1,178.2 L571.3,178.7 L567.9,178.9 L565.3,179.3 L562.1,179.1 L558.9,180.0 L556.4,181.6 L553.1,182.7 L550.4,184.6 L547.9,186.6 L545.7,188.9 L543.4,190.6 L542.1,192.7 L539.5,194.2 L538.0,196.2 L535.4,194.5 L532.1,193.1 L530.4,195.0 L528.7,197.1 L527.4,199.2 L524.6,200.3 L521.6,202.4 L518.6,203.4 L515.6,205.3 L513.7,207.8 L512.7,210.3 L511.0,212.8 L509.8,215.3 L509.6,218.1 L508.5,220.6 L506.7,223.2 L505.7,225.9 L504.0,228.2 L502.8,230.8" fill="none" stroke="#555" stroke-width="0.8" stroke-linejoin="round"/>
<path d="M602.7,154.2 L603.4,154.7 L604.7,157.6 L605.2,159.1 L605.7,161.4 L609.4,160.5 L610.0,162.5 L609.7,163.7 L611.9,162.9 L613.6,165.1 L612.9,167.3 L614.3,168.1 L615.5,168.3 L614.3,171.0 L616.7,171.9 L618.7,172.6 L620.1,173.6 L619.8,172.7 L622.2,170.2 L623.7,171.5 L625.0,172.4 L626.2,170.8 L627.9,170.5 L630.2,168.2 L631.6,168.4 L633.1,169.2 L634.6,167.5 L635.7,168.6 L637.1,169.1 L639.3,168.6 L640.2,169.5 L642.0,171.7 L642.1,171.1 L644.7,170.6 L646.7,172.4 L647.9,171.0" fill="none" stroke="#111" stroke-width="1" stroke-linejoin="round"/>
<path d="M664.3,169.2 L665.6,170.8 L664.2,172.3 L665.2,173.7 L665.9,175.2 L667.4,175.9 L668.5,176.7 L670.2,176.3 L671.7,177.1 L671.4,178.6 L670.4,179.2 L670.5,180.8 L670.6,182.9 L670.6,184.3 L668.6,185.2 L667.4,186.5 L665.8,187.3 L665.8,188.8 L663.8,190.1 L663.8,192.0 L662.7,193.3 L662.8,194.8 L662.2,196.1 L662.2,198.4 L661.7,199.4 L659.8,200.4 L659.5,202.2 L660.9,203.3 L660.6,205.4 L660.5,207.3 L661.0,208.3 L663.2,209.0 L664.1,209.4 L664.7,210.5 L666.7,211.7 L667.1,213.1 L669.3,213.3 L669.7,214.2 L671.5,214.7 L673.6,214.9 L674.9,215.6" fill="none" stroke="#111" stroke-width="1" stroke-linejoin="round"/>
<path d="M679.3,100.1 L678.7,101.1 L677.5,102.4 L676.7,103.6 L675.3,104.3 L673.6,104.9 L673.3,106.5 L671.6,107.5 L671.1,108.7 L669.2,109.8 L667.8,109.8 L667.2,110.9 L665.6,111.9" fill="none" stroke="#111" stroke-width="1" stroke-linejoin="round"/>
<path d="M713.5,70.1 L712.1,70.3 L710.7,70.8 L709.3,71.9 L707.9,72.4 L706.3,73.1 L705.4,74.0 L703.8,75.1 L702.4,75.4 L701.1,75.9 L700.0,77.1 L698.2,77.4 L697.1,78.4 L695.9,79.2 L694.0,79.6 L692.7,80.5 L691.2,81.8 L689.7,82.8 L688.4,83.7 L687.2,84.6 L686.5,86.1 L685.4,87.8 L685.1,89.0 L683.5,90.2 L682.4,91.5 L681.5,92.7 L680.9,94.2" fill="none" stroke="#111" stroke-width="1" stroke-linejoin="round"/>
</g>
<g id="scs">
<path d="M961.5,599.2 L964.9,600.9 L968.4,598.1 L971.8,599.2 L976.4,602.1 L981.0,600.9 L982.7,604.4 L984.5,613.6 L989.0,613.6 L990.2,610.1 L987.9,606.7 L990.2,603.2 L994.8,602.1 L1000.5,599.8 L1006.3,598.6 L1013.2,599.8 L1016.6,595.2 L1021.2,594.0 L1024.6,589.5 L1023.5,587.2 L1026.9,591.7 L1030.4,592.9 L1035.0,588.3 L1041.9,587.2 L1047.6,586.0 L1053.4,583.7 L1055.6,581.4 L1060.2,579.1 L1064.8,575.7 L1069.4,571.1 L1074.0,567.6 L1077.5,565.9 L960.1,564.9 L960.1,599.2Z" fill="#f9f5f1" stroke="none"/>
<path d="M961.5,599.2 L964.9,600.9 L968.4,598.1 L971.8,599.2 L976.4,602.1 L981.0,600.9 L982.7,604.4 L984.5,613.6 L989.0,613.6 L990.2,610.1 L987.9,606.7 L990.2,603.2 L994.8,602.1 L1000.5,599.8 L1006.3,598.6 L1013.2,599.8 L1016.6,595.2 L1021.2,594.0 L1024.6,589.5 L1023.5,587.2 L1026.9,591.7 L1030.4,592.9 L1035.0,588.3 L1041.9,587.2 L1047.6,586.0 L1053.4,583.7 L1055.6,581.4 L1060.2,579.1 L1064.8,575.7 L1069.4,571.1 L1074.0,567.6 L1077.5,565.9" fill="none" stroke="#000" stroke-width="1.5" stroke-linejoin="round"/>
<path d="M1006.3,565.9 L1005.1,573.4 L1001.7,578.0 L1000.5,583.7 L995.9,588.3 L991.3,592.9 L984.5,597.5 L981.0,600.9M1056.8,565.9 L1057.9,572.2 L1059.1,578.0M1030.4,565.9 L1032.7,569.4 L1039.6,567.6 L1045.3,565.9" fill="none" stroke="#000" stroke-width="1.1"/>
<path d="M970.7,623.9 L973.0,620.5 L977.6,618.2 L983.3,617.0 L989.0,615.9 L993.6,615.3 L995.9,619.3 L994.2,623.9 L990.2,628.5 L986.7,633.1 L982.2,635.4 L976.4,635.4 L971.8,632.5 L970.1,628.5Z" fill="#f9f5f1" stroke="#000" stroke-width="1.4"/>
<path d="M1098.1,565.3 L1094.7,571.1 L1092.4,576.8 L1090.1,582.6 L1092.4,588.3 L1095.8,592.9 L1098.1,596.3 L1100.4,594.0 L1101.6,588.3 L1105.0,581.4 L1108.5,573.4 L1110.2,565.3" fill="#f9f5f1" stroke="#000" stroke-width="1.2"/>
<path d="M1024.6,662.4 L1028.1,658.4 L1032.7,657.2 L1036.1,656.6 L1036.7,658.4 L1033.8,661.8 L1030.4,664.7 L1026.9,665.2Z" fill="#fff" stroke="#000" stroke-width="1"/>
<path d="M1119.4,569.9 L1116.5,580.3M1085.5,578.0 L1083.8,583.1M1109.6,599.8 L1101.6,608.4M1089.5,627.9 L1084.4,637.7M1080.3,660.1 L1079.5,669.3M1079.2,702.0 L1074.6,712.3M1051.1,743.3 L1043.0,752.5M1014.3,788.1 L1003.4,791.6M966.1,752.5 L965.5,757.1 L967.0,763.4M988.5,698.5 L987.9,704.3 L985.6,708.3M977.6,656.6 L980.4,661.8 L983.3,667.0M1008.0,785.8 L1005.7,787.5" fill="none" stroke="#000" stroke-width="0.9"/>
<rect x="1031.0" y="723.4" width="2.2" height="2" fill="#000"/>
<rect x="1029.3" y="724.5" width="2.2" height="2" fill="#000"/>
<rect x="1018.9" y="741.2" width="2.2" height="2" fill="#000"/>
<rect x="1018.4" y="742.3" width="2.2" height="2" fill="#000"/>
<rect x="1014.9" y="725.7" width="2.2" height="2" fill="#000"/>
<rect x="979.9" y="748.6" width="2.2" height="2" fill="#000"/>
<rect x="982.2" y="748.1" width="2.2" height="2" fill="#000"/>
<rect x="1001.7" y="654.5" width="2.2" height="2" fill="#000"/>
<rect x="1065.5" y="667.1" width="2.2" height="2" fill="#000"/>
<rect x="1055.1" y="608.5" width="2.2" height="2" fill="#000"/>
<rect x="1055.6" y="608.9" width="1.3" height="1.3" fill="#000"/>
<rect x="1105.0" y="594.6" width="1.3" height="1.3" fill="#000"/>
<rect x="1066.0" y="667.5" width="1.3" height="1.3" fill="#000"/>
<rect x="999.9" y="646.8" width="1.3" height="1.3" fill="#000"/>
<rect x="1008.0" y="648.6" width="1.3" height="1.3" fill="#000"/>
<rect x="1013.1" y="651.4" width="1.3" height="1.3" fill="#000"/>
<rect x="1001.7" y="653.2" width="1.3" height="1.3" fill="#000"/>
<rect x="1004.5" y="654.9" width="1.3" height="1.3" fill="#000"/>
<rect x="1002.2" y="656.6" width="1.3" height="1.3" fill="#000"/>
<rect x="1010.3" y="658.3" width="1.3" height="1.3" fill="#000"/>
<rect x="997.1" y="660.6" width="1.3" height="1.3" fill="#000"/>
<rect x="1084.9" y="577.9" width="1.3" height="1.3" fill="#000"/>
<rect x="1060.2" y="581.4" width="1.3" height="1.3" fill="#000"/>
<rect x="1029.2" y="707.7" width="1.3" height="1.3" fill="#000"/>
<rect x="1034.4" y="710.0" width="1.3" height="1.3" fill="#000"/>
<rect x="1037.2" y="711.2" width="1.3" height="1.3" fill="#000"/>
<rect x="1028.6" y="712.9" width="1.3" height="1.3" fill="#000"/>
<rect x="1030.9" y="714.6" width="1.3" height="1.3" fill="#000"/>
<rect x="1032.1" y="717.5" width="1.3" height="1.3" fill="#000"/>
<rect x="1028.6" y="719.8" width="1.3" height="1.3" fill="#000"/>
<rect x="1022.3" y="719.8" width="1.3" height="1.3" fill="#000"/>
<rect x="1025.2" y="721.5" width="1.3" height="1.3" fill="#000"/>
<rect x="1044.7" y="714.0" width="1.3" height="1.3" fill="#000"/>
<rect x="1049.3" y="715.2" width="1.3" height="1.3" fill="#000"/>
<rect x="1052.8" y="718.6" width="1.3" height="1.3" fill="#000"/>
<rect x="1056.2" y="712.9" width="1.3" height="1.3" fill="#000"/>
<rect x="1060.8" y="715.2" width="1.3" height="1.3" fill="#000"/>
<rect x="1066.0" y="714.0" width="1.3" height="1.3" fill="#000"/>
<rect x="1040.1" y="719.8" width="1.3" height="1.3" fill="#000"/>
<rect x="1044.7" y="723.2" width="1.3" height="1.3" fill="#000"/>
<rect x="1046.4" y="725.5" width="1.3" height="1.3" fill="#000"/>
<rect x="1050.5" y="719.8" width="1.3" height="1.3" fill="#000"/>
<rect x="1052.2" y="725.5" width="1.3" height="1.3" fill="#000"/>
<rect x="1048.7" y="726.7" width="1.3" height="1.3" fill="#000"/>
<rect x="1061.9" y="720.9" width="1.3" height="1.3" fill="#000"/>
<rect x="1056.8" y="727.8" width="1.3" height="1.3" fill="#000"/>
<rect x="1041.3" y="728.9" width="1.3" height="1.3" fill="#000"/>
<rect x="1047.0" y="730.1" width="1.3" height="1.3" fill="#000"/>
<rect x="1053.3" y="731.8" width="1.3" height="1.3" fill="#000"/>
<rect x="1051.0" y="734.1" width="1.3" height="1.3" fill="#000"/>
<rect x="1006.8" y="734.1" width="1.3" height="1.3" fill="#000"/>
<rect x="1012.0" y="734.7" width="1.3" height="1.3" fill="#000"/>
<rect x="1014.9" y="734.1" width="1.3" height="1.3" fill="#000"/>
<rect x="1001.7" y="736.4" width="1.3" height="1.3" fill="#000"/>
<rect x="1024.0" y="733.0" width="1.3" height="1.3" fill="#000"/>
<rect x="1025.8" y="734.7" width="1.3" height="1.3" fill="#000"/>
<rect x="1033.2" y="734.7" width="1.3" height="1.3" fill="#000"/>
<rect x="1038.4" y="739.3" width="1.3" height="1.3" fill="#000"/>
<rect x="1034.4" y="741.0" width="1.3" height="1.3" fill="#000"/>
<rect x="1031.5" y="742.2" width="1.3" height="1.3" fill="#000"/>
<rect x="1025.2" y="743.9" width="1.3" height="1.3" fill="#000"/>
<rect x="1024.6" y="748.5" width="1.3" height="1.3" fill="#000"/>
<rect x="1024.0" y="749.6" width="1.3" height="1.3" fill="#000"/>
<rect x="986.1" y="740.4" width="1.3" height="1.3" fill="#000"/>
<rect x="989.6" y="742.7" width="1.3" height="1.3" fill="#000"/>
<rect x="989.0" y="745.6" width="1.3" height="1.3" fill="#000"/>
<rect x="1001.7" y="745.0" width="1.3" height="1.3" fill="#000"/>
<rect x="1000.5" y="748.5" width="1.3" height="1.3" fill="#000"/>
<rect x="1021.2" y="754.8" width="1.3" height="1.3" fill="#000"/>
<rect x="1018.3" y="760.5" width="1.3" height="1.3" fill="#000"/>
<rect x="1010.3" y="765.7" width="1.3" height="1.3" fill="#000"/>
<rect x="1009.1" y="768.0" width="1.3" height="1.3" fill="#000"/>
<rect x="1010.8" y="766.8" width="1.3" height="1.3" fill="#000"/>
</g>
<g id="compass">
<path d="M0,-52 L8.6,-8.6 L0,0Z M52,0 L8.6,8.6 L0,0Z M0,52 L-8.6,8.6 L0,0Z M-52,0 L-8.6,-8.6 L0,0Z" fill="#000" stroke="#000" stroke-width="0.6"/>
<path d="M0,-52 L-8.6,-8.6 L0,0Z M52,0 L8.6,-8.6 L0,0Z M0,52 L8.6,8.6 L0,0Z M-52,0 L-8.6,8.6 L0,0Z" fill="#fff" stroke="#000" stroke-width="0.6"/>
<text class="se" x="0.5" y="-60.5" font-size="26" text-anchor="middle">N</text>
</g>
<g id="legend">
<path d="M114.1,565.6 L119.3,574 L108.9,574Z" fill="#000"/>
<path d="M114.1,616.2 L119.3,624.6 L108.9,624.6Z" fill="#dda43a"/>
<rect x="109" y="665.8" width="10.5" height="10.4" fill="#e8251c"/>
<rect x="109" y="716.3" width="10.5" height="10.4" fill="#3a6cf0"/>
<text x="170" y="581.9" font-size="33">Captured steel unit</text>
<text x="170" y="630.7" font-size="33">Uncaptured steel unit</text>
<text x="170" y="679.5" font-size="33">Oil field sink</text>
<text x="170" y="728.3" font-size="33">Basin sink</text>
<rect x="113.3" y="784.6" width="466.3" height="20.8" fill="#000"/>
<rect x="231" y="786" width="114.8" height="18" fill="#fff"/>
<text x="114.2" y="773.6" font-size="24" text-anchor="middle">0</text>
<text x="230.3" y="773.6" font-size="24" text-anchor="middle">750</text>
<text x="347.0" y="773.6" font-size="24" text-anchor="middle">1,500</text>
<text x="578.6" y="773.6" font-size="24" text-anchor="middle">3,000</text>
<text x="584.5" y="804.3" font-size="24">km</text>
</g>
</defs>
<g transform="translate(0.0,0.0)">
<use href="#base"/>
<path d="M875.6,388.4 L882.0,399.3M883.2,435.3 L887.4,446.2M908.8,426.9 L910.5,450.4M763.4,513.2 L798.5,513.2M754.1,504.0 L747.9,512.9 L763.4,513.4M849.6,356.1 L850.3,369.7M924.8,279.6 L938.4,271.4M853.9,301.5 L854.2,309.7M861.8,306.0 L863.0,311.0M843.0,317.3 L847.3,333.2M858.7,322.2 L863.0,335.9M865.6,318.2 L870.4,323.9 L871.9,319.1M871.0,324.7 L865.1,333.4M854.4,320.7 L862.0,318.4 L865.6,318.2M863.0,339.9 L859.7,345.4M854.7,349.9 L862.5,350.4M835.3,324.2 L839.7,326.7" fill="none" stroke="#686868" stroke-width="3" stroke-linecap="butt"/>
<rect x="682.1" y="621.6" width="7.6" height="2.2" fill="#000"/>
<path d="M801.0,289.9 l3.8,6.9 h-7.6z" fill="#dda53a"/>
<path d="M631.6,341.4 l3.8,6.9 h-7.6z" fill="#dda53a"/>
<path d="M610.8,368.7 l3.8,6.9 h-7.6z" fill="#dda53a"/>
<path d="M802.2,339.2 l3.8,6.9 h-7.6z" fill="#dda53a"/>
<path d="M655.9,418.1 l3.8,6.9 h-7.6z" fill="#dda53a"/>
<path d="M772.8,415.6 l3.8,6.9 h-7.6z" fill="#dda53a"/>
<path d="M801.3,414.3 l3.8,6.9 h-7.6z" fill="#dda53a"/>
<path d="M816.1,432.4 l3.8,6.9 h-7.6z" fill="#dda53a"/>
<path d="M789.9,461.5 l3.8,6.9 h-7.6z" fill="#dda53a"/>
<path d="M797.2,464.5 l3.8,6.9 h-7.6z" fill="#dda53a"/>
<path d="M801.3,468.2 l3.8,6.9 h-7.6z" fill="#dda53a"/>
<path d="M821.5,476.6 l3.8,6.9 h-7.6z" fill="#dda53a"/>
<path d="M618.7,476.6 l3.8,6.9 h-7.6z" fill="#dda53a"/>
<path d="M818.9,365.2 l3.8,6.9 h-7.6z" fill="#dda53a"/>
<path d="M840.1,393.3 l3.8,6.9 h-7.6z" fill="#dda53a"/>
<path d="M856.0,386.9 l3.8,6.9 h-7.6z" fill="#dda53a"/>
<path d="M856.0,397.5 l3.8,6.9 h-7.6z" fill="#dda53a"/>
<path d="M876.0,423.1 l3.8,6.9 h-7.6z" fill="#dda53a"/>
<path d="M898.8,417.6 l3.8,6.9 h-7.6z" fill="#dda53a"/>
<path d="M918.4,474.1 l3.8,6.9 h-7.6z" fill="#dda53a"/>
<path d="M865.9,491.4 l3.8,6.9 h-7.6z" fill="#dda53a"/>
<path d="M881.5,528.2 l3.8,6.9 h-7.6z" fill="#dda53a"/>
<path d="M844.3,564.6 l3.8,6.9 h-7.6z" fill="#dda53a"/>
<path d="M579.5,511.1 l3.8,6.9 h-7.6z" fill="#dda53a"/>
<path d="M570.8,531.7 l3.8,6.9 h-7.6z" fill="#dda53a"/>
<path d="M625.9,531.2 l3.8,6.9 h-7.6z" fill="#dda53a"/>
<path d="M582.0,558.9 l3.8,6.9 h-7.6z" fill="#dda53a"/>
<path d="M582.0,563.9 l3.8,6.9 h-7.6z" fill="#dda53a"/>
<path d="M702.7,569.0 l3.8,6.9 h-7.6z" fill="#dda53a"/>
<path d="M686.4,615.0 l3.8,6.9 h-7.6z" fill="#dda53a"/>
<path d="M709.1,615.9 l3.8,6.9 h-7.6z" fill="#dda53a"/>
<path d="M742.1,608.3 l3.8,6.9 h-7.6z" fill="#dda53a"/>
<path d="M998.5,209.1 l3.8,6.9 h-7.6z" fill="#dda53a"/>
<path d="M989.2,269.1 l3.8,6.9 h-7.6z" fill="#dda53a"/>
<path d="M868.8,261.1 l3.8,6.9 h-7.6z" fill="#dda53a"/>
<path d="M892.0,273.4 l3.8,6.9 h-7.6z" fill="#dda53a"/>
<path d="M875.6,278.2 l3.8,6.9 h-7.6z" fill="#dda53a"/>
<path d="M845.9,285.8 l3.8,6.9 h-7.6z" fill="#dda53a"/>
<path d="M843.6,292.9 l3.8,6.9 h-7.6z" fill="#dda53a"/>
<path d="M876.0,301.0 l3.8,6.9 h-7.6z" fill="#dda53a"/>
<path d="M858.2,306.4 l3.8,6.9 h-7.6z" fill="#dda53a"/>
<path d="M867.9,313.5 l3.8,6.9 h-7.6z" fill="#dda53a"/>
<path d="M322.5,232.8 l3.8,6.9 h-7.6z" fill="#000"/>
<path d="M512.7,302.7 l3.8,6.9 h-7.6z" fill="#000"/>
<path d="M709.2,288.9 l3.8,6.9 h-7.6z" fill="#000"/>
<path d="M717.5,288.2 l3.8,6.9 h-7.6z" fill="#000"/>
<path d="M783.7,328.3 l3.8,6.9 h-7.6z" fill="#000"/>
<path d="M789.6,349.7 l3.8,6.9 h-7.6z" fill="#000"/>
<path d="M777.9,357.3 l3.8,6.9 h-7.6z" fill="#000"/>
<path d="M781.2,356.4 l3.8,6.9 h-7.6z" fill="#000"/>
<path d="M735.1,375.7 l3.8,6.9 h-7.6z" fill="#000"/>
<path d="M736.0,379.1 l3.8,6.9 h-7.6z" fill="#000"/>
<path d="M762.8,374.9 l3.8,6.9 h-7.6z" fill="#000"/>
<path d="M757.8,384.9 l3.8,6.9 h-7.6z" fill="#000"/>
<path d="M787.1,368.2 l3.8,6.9 h-7.6z" fill="#000"/>
<path d="M826.5,364.8 l3.8,6.9 h-7.6z" fill="#000"/>
<path d="M662.6,475.8 l3.8,6.9 h-7.6z" fill="#000"/>
<path d="M735.1,346.4 l3.8,6.9 h-7.6z" fill="#000"/>
<path d="M870.6,384.1 l3.8,6.9 h-7.6z" fill="#000"/>
<path d="M875.6,383.3 l3.8,6.9 h-7.6z" fill="#000"/>
<path d="M882.0,393.3 l3.8,6.9 h-7.6z" fill="#000"/>
<path d="M863.1,441.1 l3.8,6.9 h-7.6z" fill="#000"/>
<path d="M860.6,445.3 l3.8,6.9 h-7.6z" fill="#000"/>
<path d="M855.5,450.3 l3.8,6.9 h-7.6z" fill="#000"/>
<path d="M851.3,453.6 l3.8,6.9 h-7.6z" fill="#000"/>
<path d="M886.5,442.8 l3.8,6.9 h-7.6z" fill="#000"/>
<path d="M892.4,438.6 l3.8,6.9 h-7.6z" fill="#000"/>
<path d="M896.6,438.6 l3.8,6.9 h-7.6z" fill="#000"/>
<path d="M899.9,442.2 l3.8,6.9 h-7.6z" fill="#000"/>
<path d="M910.5,446.9 l3.8,6.9 h-7.6z" fill="#000"/>
<path d="M763.4,509.8 l3.8,6.9 h-7.6z" fill="#000"/>
<path d="M798.5,509.8 l3.8,6.9 h-7.6z" fill="#000"/>
<path d="M747.1,510.6 l3.8,6.9 h-7.6z" fill="#000"/>
<path d="M722.0,625.1 l3.8,6.9 h-7.6z" fill="#000"/>
<path d="M998.0,231.1 l3.8,6.9 h-7.6z" fill="#000"/>
<path d="M947.3,278.9 l3.8,6.9 h-7.6z" fill="#000"/>
<path d="M922.7,296.0 l3.8,6.9 h-7.6z" fill="#000"/>
<path d="M831.2,355.4 l3.8,6.9 h-7.6z" fill="#000"/>
<path d="M844.2,364.2 l3.8,6.9 h-7.6z" fill="#000"/>
<path d="M848.3,367.6 l3.8,6.9 h-7.6z" fill="#000"/>
<path d="M864.7,353.3 l3.8,6.9 h-7.6z" fill="#000"/>
<path d="M881.1,375.8 l3.8,6.9 h-7.6z" fill="#000"/>
<path d="M851.6,298.4 l3.8,6.9 h-7.6z" fill="#000"/>
<path d="M853.9,298.0 l3.8,6.9 h-7.6z" fill="#000"/>
<path d="M855.2,298.0 l3.8,6.9 h-7.6z" fill="#000"/>
<path d="M859.7,302.5 l3.8,6.9 h-7.6z" fill="#000"/>
<path d="M860.8,301.5 l3.8,6.9 h-7.6z" fill="#000"/>
<path d="M862.0,300.5 l3.8,6.9 h-7.6z" fill="#000"/>
<path d="M861.8,302.5 l3.8,6.9 h-7.6z" fill="#000"/>
<path d="M854.2,306.3 l3.8,6.9 h-7.6z" fill="#000"/>
<path d="M853.9,307.5 l3.8,6.9 h-7.6z" fill="#000"/>
<path d="M855.2,309.3 l3.8,6.9 h-7.6z" fill="#000"/>
<path d="M856.9,307.8 l3.8,6.9 h-7.6z" fill="#000"/>
<path d="M858.5,308.0 l3.8,6.9 h-7.6z" fill="#000"/>
<path d="M864.3,305.8 l3.8,6.9 h-7.6z" fill="#000"/>
<path d="M865.3,306.5 l3.8,6.9 h-7.6z" fill="#000"/>
<path d="M847.3,313.0 l3.8,6.9 h-7.6z" fill="#000"/>
<path d="M852.1,314.2 l3.8,6.9 h-7.6z" fill="#000"/>
<path d="M862.0,316.2 l3.8,6.9 h-7.6z" fill="#000"/>
<path d="M865.6,314.7 l3.8,6.9 h-7.6z" fill="#000"/>
<path d="M858.7,318.7 l3.8,6.9 h-7.6z" fill="#000"/>
<path d="M842.0,317.5 l3.8,6.9 h-7.6z" fill="#000"/>
<path d="M842.0,318.5 l3.8,6.9 h-7.6z" fill="#000"/>
<path d="M835.3,320.7 l3.8,6.9 h-7.6z" fill="#000"/>
<path d="M847.3,329.7 l3.8,6.9 h-7.6z" fill="#000"/>
<rect x="320.3" y="236.3" width="8.4" height="8.4" fill="#3b6df0"/>
<rect x="505.1" y="306.1" width="8.4" height="8.4" fill="#3b6df0"/>
<rect x="707.0" y="295.4" width="8.4" height="8.4" fill="#3b6df0"/>
<rect x="784.1" y="328.4" width="8.4" height="8.4" fill="#3b6df0"/>
<rect x="753.2" y="334.4" width="8.4" height="8.4" fill="#3b6df0"/>
<rect x="727.6" y="345.6" width="8.4" height="8.4" fill="#3b6df0"/>
<rect x="763.3" y="361.2" width="8.4" height="8.4" fill="#3b6df0"/>
<rect x="720.9" y="371.9" width="8.4" height="8.4" fill="#3b6df0"/>
<rect x="736.0" y="369.9" width="8.4" height="8.4" fill="#3b6df0"/>
<rect x="709.2" y="382.5" width="8.4" height="8.4" fill="#3b6df0"/>
<rect x="753.6" y="380.8" width="8.4" height="8.4" fill="#3b6df0"/>
<rect x="763.3" y="375.8" width="8.4" height="8.4" fill="#3b6df0"/>
<rect x="819.3" y="356.5" width="8.4" height="8.4" fill="#3b6df0"/>
<rect x="784.6" y="354.9" width="8.4" height="8.4" fill="#3b6df0"/>
<rect x="783.7" y="359.0" width="8.4" height="8.4" fill="#3b6df0"/>
<rect x="782.9" y="363.2" width="8.4" height="8.4" fill="#3b6df0"/>
<rect x="774.9" y="471.3" width="8.4" height="8.4" fill="#3b6df0"/>
<rect x="666.1" y="475.9" width="8.4" height="8.4" fill="#3b6df0"/>
<rect x="877.6" y="401.8" width="8.4" height="8.4" fill="#3b6df0"/>
<rect x="904.6" y="422.7" width="8.4" height="8.4" fill="#3b6df0"/>
<rect x="877.3" y="429.8" width="8.4" height="8.4" fill="#3b6df0"/>
<rect x="880.7" y="429.8" width="8.4" height="8.4" fill="#3b6df0"/>
<rect x="856.9" y="434.1" width="8.4" height="8.4" fill="#3b6df0"/>
<rect x="853.8" y="435.3" width="8.4" height="8.4" fill="#3b6df0"/>
<rect x="749.9" y="499.8" width="8.4" height="8.4" fill="#3b6df0"/>
<rect x="687.3" y="625.2" width="8.4" height="8.4" fill="#3b6df0"/>
<rect x="710.2" y="631.6" width="8.4" height="8.4" fill="#3b6df0"/>
<rect x="1000.5" y="202.6" width="8.4" height="8.4" fill="#3b6df0"/>
<rect x="987.3" y="225.3" width="8.4" height="8.4" fill="#3b6df0"/>
<rect x="938.3" y="270.6" width="8.4" height="8.4" fill="#3b6df0"/>
<rect x="930.8" y="278.1" width="8.4" height="8.4" fill="#3b6df0"/>
<rect x="920.6" y="287.7" width="8.4" height="8.4" fill="#3b6df0"/>
<rect x="842.7" y="349.1" width="8.4" height="8.4" fill="#3b6df0"/>
<rect x="848.2" y="349.1" width="8.4" height="8.4" fill="#3b6df0"/>
<rect x="867.3" y="354.6" width="8.4" height="8.4" fill="#3b6df0"/>
<rect x="838.8" y="313.1" width="8.4" height="8.4" fill="#3b6df0"/>
<rect x="845.4" y="312.6" width="8.4" height="8.4" fill="#3b6df0"/>
<rect x="850.6" y="311.0" width="8.4" height="8.4" fill="#3b6df0"/>
<rect x="855.3" y="310.1" width="8.4" height="8.4" fill="#3b6df0"/>
<rect x="859.4" y="308.5" width="8.4" height="8.4" fill="#3b6df0"/>
<rect x="864.2" y="307.0" width="8.4" height="8.4" fill="#3b6df0"/>
<rect x="842.3" y="348.2" width="8.4" height="8.4" fill="#3b6df0"/>
<rect x="847.2" y="348.4" width="8.4" height="8.4" fill="#3b6df0"/>
<rect x="934.2" y="266.5" width="8.4" height="8.4" fill="#e8251c"/>
<rect x="920.6" y="275.4" width="8.4" height="8.4" fill="#e8251c"/>
<rect x="916.5" y="277.5" width="8.4" height="8.4" fill="#e8251c"/>
<rect x="911.0" y="280.9" width="8.4" height="8.4" fill="#e8251c"/>
<rect x="835.5" y="322.5" width="8.4" height="8.4" fill="#e8251c"/>
<rect x="850.2" y="316.5" width="8.4" height="8.4" fill="#e8251c"/>
<rect x="847.9" y="319.7" width="8.4" height="8.4" fill="#e8251c"/>
<rect x="867.7" y="314.9" width="8.4" height="8.4" fill="#e8251c"/>
<rect x="866.8" y="320.5" width="8.4" height="8.4" fill="#e8251c"/>
<rect x="860.9" y="329.2" width="8.4" height="8.4" fill="#e8251c"/>
<rect x="858.8" y="333.2" width="8.4" height="8.4" fill="#e8251c"/>
<rect x="858.8" y="335.7" width="8.4" height="8.4" fill="#e8251c"/>
<rect x="860.9" y="337.2" width="8.4" height="8.4" fill="#e8251c"/>
<rect x="864.2" y="335.2" width="8.4" height="8.4" fill="#e8251c"/>
<rect x="855.3" y="341.2" width="8.4" height="8.4" fill="#e8251c"/>
<rect x="855.5" y="342.2" width="8.4" height="8.4" fill="#e8251c"/>
<rect x="846.9" y="342.7" width="8.4" height="8.4" fill="#e8251c"/>
<rect x="850.5" y="345.7" width="8.4" height="8.4" fill="#e8251c"/>
<rect x="858.3" y="346.2" width="8.4" height="8.4" fill="#e8251c"/>
<rect x="826.1" y="346.9" width="8.4" height="8.4" fill="#e8251c"/>
<rect x="830.1" y="346.2" width="8.4" height="8.4" fill="#e8251c"/>
<rect x="805.9" y="287.1" width="77.6" height="66.0" fill="none" stroke="#cc3228" stroke-width="3" stroke-dasharray="3,3.45"/>
<path d="M713.5,218.0 L805.9,287.1" stroke="#d93a2c" stroke-width="2.2"/>
<g clip-path="url(#insclipa)">
<g transform="matrix(1,0,0,1,0,0)"><use href="#insbase"/></g>
<path d="M626.0,62.6 L626.7,87.4M649.2,76.1 L653.0,91.1M593.7,110.3 L606.4,158.0M640.2,124.9 L653.0,166.2M660.5,112.9 L674.8,130.2 L679.3,115.6M676.6,132.4 L659.0,158.7M627.5,120.4 L650.0,113.6 L660.5,112.9M653.0,178.2 L643.2,194.8M628.2,208.3 L651.5,209.8M570.8,130.9 L583.9,138.4" fill="none" stroke="#444" stroke-width="1.5"/>
<path d="M602.4,22.3 l4.0,7.0 h-8.0z" fill="#dda53a"/>
<path d="M595.6,43.8 l4.0,7.0 h-8.0z" fill="#dda53a"/>
<path d="M691.3,68.1 l4.0,7.0 h-8.0z" fill="#dda53a"/>
<path d="M638.7,84.3 l4.0,7.0 h-8.0z" fill="#dda53a"/>
<path d="M667.3,105.6 l4.0,7.0 h-8.0z" fill="#dda53a"/>
<path d="M619.2,60.3 l4.0,7.0 h-8.0z" fill="#000"/>
<path d="M626.0,59.1 l4.0,7.0 h-8.0z" fill="#000"/>
<path d="M629.7,59.1 l4.0,7.0 h-8.0z" fill="#000"/>
<path d="M643.2,72.6 l4.0,7.0 h-8.0z" fill="#000"/>
<path d="M646.2,69.6 l4.0,7.0 h-8.0z" fill="#000"/>
<path d="M650.0,66.6 l4.0,7.0 h-8.0z" fill="#000"/>
<path d="M649.2,72.6 l4.0,7.0 h-8.0z" fill="#000"/>
<path d="M626.7,83.9 l4.0,7.0 h-8.0z" fill="#000"/>
<path d="M626.0,87.6 l4.0,7.0 h-8.0z" fill="#000"/>
<path d="M629.7,92.9 l4.0,7.0 h-8.0z" fill="#000"/>
<path d="M635.0,88.4 l4.0,7.0 h-8.0z" fill="#000"/>
<path d="M639.5,89.1 l4.0,7.0 h-8.0z" fill="#000"/>
<path d="M656.8,82.4 l4.0,7.0 h-8.0z" fill="#000"/>
<path d="M659.8,84.6 l4.0,7.0 h-8.0z" fill="#000"/>
<path d="M606.4,104.1 l4.0,7.0 h-8.0z" fill="#000"/>
<path d="M620.7,107.9 l4.0,7.0 h-8.0z" fill="#000"/>
<path d="M650.0,113.9 l4.0,7.0 h-8.0z" fill="#000"/>
<path d="M660.5,109.4 l4.0,7.0 h-8.0z" fill="#000"/>
<path d="M640.2,121.4 l4.0,7.0 h-8.0z" fill="#000"/>
<path d="M590.7,117.7 l4.0,7.0 h-8.0z" fill="#000"/>
<path d="M590.7,120.7 l4.0,7.0 h-8.0z" fill="#000"/>
<path d="M570.8,127.4 l4.0,7.0 h-8.0z" fill="#000"/>
<path d="M606.4,154.5 l4.0,7.0 h-8.0z" fill="#000"/>
<rect x="589.0" y="105.7" width="9.3" height="9.3" fill="#3b6df0"/>
<rect x="608.5" y="104.2" width="9.3" height="9.3" fill="#3b6df0"/>
<rect x="624.0" y="99.2" width="9.3" height="9.3" fill="#3b6df0"/>
<rect x="637.8" y="96.5" width="9.3" height="9.3" fill="#3b6df0"/>
<rect x="649.9" y="91.7" width="9.3" height="9.3" fill="#3b6df0"/>
<rect x="664.1" y="87.2" width="9.3" height="9.3" fill="#3b6df0"/>
<rect x="599.5" y="211.1" width="9.3" height="9.3" fill="#3b6df0"/>
<rect x="613.8" y="211.9" width="9.3" height="9.3" fill="#3b6df0"/>
<rect x="579.3" y="133.8" width="9.3" height="9.3" fill="#e8251c"/>
<rect x="622.8" y="115.8" width="9.3" height="9.3" fill="#e8251c"/>
<rect x="616.1" y="125.5" width="9.3" height="9.3" fill="#e8251c"/>
<rect x="674.6" y="111.0" width="9.3" height="9.3" fill="#e8251c"/>
<rect x="671.9" y="127.8" width="9.3" height="9.3" fill="#e8251c"/>
<rect x="654.4" y="154.1" width="9.3" height="9.3" fill="#e8251c"/>
<rect x="648.4" y="166.1" width="9.3" height="9.3" fill="#e8251c"/>
<rect x="648.4" y="173.6" width="9.3" height="9.3" fill="#e8251c"/>
<rect x="654.4" y="178.1" width="9.3" height="9.3" fill="#e8251c"/>
<rect x="664.1" y="172.1" width="9.3" height="9.3" fill="#e8251c"/>
<rect x="637.8" y="190.1" width="9.3" height="9.3" fill="#e8251c"/>
<rect x="638.6" y="193.1" width="9.3" height="9.3" fill="#e8251c"/>
<rect x="613.1" y="194.6" width="9.3" height="9.3" fill="#e8251c"/>
<rect x="623.6" y="203.6" width="9.3" height="9.3" fill="#e8251c"/>
<rect x="646.9" y="205.1" width="9.3" height="9.3" fill="#e8251c"/>
<rect x="551.5" y="207.4" width="9.3" height="9.3" fill="#e8251c"/>
<rect x="563.5" y="205.1" width="9.3" height="9.3" fill="#e8251c"/>
</g>
<rect x="484.0" y="19.3" width="229.5" height="198.7" fill="none" stroke="#c8362e" stroke-width="1.3" stroke-dasharray="4.6,2.3"/>
<g transform="translate(0,0)">
<use href="#scs"/>
<path d="M978.1,568.4 l2.7,4.8 h-5.4z" fill="#dda53a"/>
<path d="M1063.7,566.4 l2.7,4.8 h-5.4z" fill="#dda53a"/>
<path d="M1000.5,592.8 l2.7,4.8 h-5.4z" fill="#dda53a"/>
<path d="M967.8,596.2 l2.7,4.8 h-5.4z" fill="#dda53a"/>
<path d="M981.6,596.8 l2.7,4.8 h-5.4z" fill="#dda53a"/>
<rect x="967.9" y="603.0" width="5.0" height="5.0" fill="#3b6df0"/>
<rect x="983.1" y="607.6" width="5.0" height="5.0" fill="#3b6df0"/>
<rect x="960" y="564.8" width="163.6" height="231.4" fill="none" stroke="#000" stroke-width="2.9" stroke-dasharray="7,3.2"/>
</g>
<use href="#compass" x="123.5" y="147.1"/>
<use href="#legend"/>
</g>
<text x="1.5" y="52.1" font-size="60">a</text>
<g transform="translate(0.0,840.1)">
<use href="#base"/>
<path d="M789.9,463.8 L798.0,468.0 L821.5,476.4M603.6,485.3 L590.2,500.0M770.3,492.6 L781.2,500.0M858.9,380.0 L869.8,387.0 L882.3,399.3M869.8,387.0 L882.3,380.0M891.9,431.1 L892.4,442.0M908.8,426.9 L910.5,450.4M790.2,463.8 L801.1,471.8 L821.7,476.4M770.4,492.6 L798.5,513.2M763.4,513.2 L798.5,513.2M603.5,485.3 L579.5,514.6 L570.8,535.2 L582.0,563.2M770.6,492.5 L790.0,508.7M747.1,514.1 L790.0,512.9M938.4,270.7 L924.8,279.6M938.4,271.4 L947.3,282.3M846.9,353.3 L844.2,367.7M851.0,353.3 L848.3,371.1M848.3,371.1 L869.4,386.8M854.2,301.9 L854.1,309.6M861.9,306.0 L865.4,309.9M863.5,312.8 L868.1,316.7M843.0,317.4 L842.1,320.5M835.4,324.2 L839.7,326.6M854.2,320.6 L861.9,319.8M858.9,322.0 L863.1,336.1M847.4,333.2 L865.0,333.5M865.0,333.5 L870.9,324.8 L871.9,319.1M865.0,333.5 L863.1,337.0M863.1,339.7 L859.4,345.0M851.0,346.6 L859.4,345.5M854.7,349.6 L859.4,346.2M859.4,346.2 L862.5,350.4M865.0,334.1 L868.1,339.5" fill="none" stroke="#686868" stroke-width="3" stroke-linecap="butt"/>
<rect x="682.1" y="621.6" width="7.6" height="2.2" fill="#000"/>
<path d="M801.0,289.9 l3.8,6.9 h-7.6z" fill="#dda53a"/>
<path d="M631.6,341.4 l3.8,6.9 h-7.6z" fill="#dda53a"/>
<path d="M610.8,368.7 l3.8,6.9 h-7.6z" fill="#dda53a"/>
<path d="M802.2,339.2 l3.8,6.9 h-7.6z" fill="#dda53a"/>
<path d="M655.9,418.1 l3.8,6.9 h-7.6z" fill="#dda53a"/>
<path d="M772.8,415.6 l3.8,6.9 h-7.6z" fill="#dda53a"/>
<path d="M801.3,414.3 l3.8,6.9 h-7.6z" fill="#dda53a"/>
<path d="M816.1,432.4 l3.8,6.9 h-7.6z" fill="#dda53a"/>
<path d="M784.6,359.0 l3.8,6.9 h-7.6z" fill="#dda53a"/>
<path d="M818.9,365.2 l3.8,6.9 h-7.6z" fill="#dda53a"/>
<path d="M825.6,365.2 l3.8,6.9 h-7.6z" fill="#dda53a"/>
<path d="M618.7,476.6 l3.8,6.9 h-7.6z" fill="#dda53a"/>
<path d="M662.6,475.8 l3.8,6.9 h-7.6z" fill="#dda53a"/>
<path d="M840.1,393.3 l3.8,6.9 h-7.6z" fill="#dda53a"/>
<path d="M856.0,386.9 l3.8,6.9 h-7.6z" fill="#dda53a"/>
<path d="M856.0,397.5 l3.8,6.9 h-7.6z" fill="#dda53a"/>
<path d="M918.4,474.1 l3.8,6.9 h-7.6z" fill="#dda53a"/>
<path d="M865.9,491.4 l3.8,6.9 h-7.6z" fill="#dda53a"/>
<path d="M881.5,528.2 l3.8,6.9 h-7.6z" fill="#dda53a"/>
<path d="M844.3,564.6 l3.8,6.9 h-7.6z" fill="#dda53a"/>
<path d="M625.9,531.2 l3.8,6.9 h-7.6z" fill="#dda53a"/>
<path d="M702.7,569.0 l3.8,6.9 h-7.6z" fill="#dda53a"/>
<path d="M686.4,615.0 l3.8,6.9 h-7.6z" fill="#dda53a"/>
<path d="M709.1,615.9 l3.8,6.9 h-7.6z" fill="#dda53a"/>
<path d="M742.1,608.3 l3.8,6.9 h-7.6z" fill="#dda53a"/>
<path d="M989.2,269.1 l3.8,6.9 h-7.6z" fill="#dda53a"/>
<path d="M868.8,261.1 l3.8,6.9 h-7.6z" fill="#dda53a"/>
<path d="M892.0,273.4 l3.8,6.9 h-7.6z" fill="#dda53a"/>
<path d="M875.6,278.2 l3.8,6.9 h-7.6z" fill="#dda53a"/>
<path d="M845.9,285.8 l3.8,6.9 h-7.6z" fill="#dda53a"/>
<path d="M843.7,292.9 l3.8,6.9 h-7.6z" fill="#dda53a"/>
<path d="M876.0,301.0 l3.8,6.9 h-7.6z" fill="#dda53a"/>
<path d="M858.2,306.3 l3.8,6.9 h-7.6z" fill="#dda53a"/>
<path d="M856.7,307.8 l3.8,6.9 h-7.6z" fill="#dda53a"/>
<path d="M322.5,232.8 l3.8,6.9 h-7.6z" fill="#000"/>
<path d="M512.7,302.7 l3.8,6.9 h-7.6z" fill="#000"/>
<path d="M709.2,288.9 l3.8,6.9 h-7.6z" fill="#000"/>
<path d="M717.5,288.2 l3.8,6.9 h-7.6z" fill="#000"/>
<path d="M783.7,328.3 l3.8,6.9 h-7.6z" fill="#000"/>
<path d="M777.9,358.1 l3.8,6.9 h-7.6z" fill="#000"/>
<path d="M781.2,356.4 l3.8,6.9 h-7.6z" fill="#000"/>
<path d="M735.1,375.7 l3.8,6.9 h-7.6z" fill="#000"/>
<path d="M762.8,374.9 l3.8,6.9 h-7.6z" fill="#000"/>
<path d="M757.8,384.9 l3.8,6.9 h-7.6z" fill="#000"/>
<path d="M787.1,368.2 l3.8,6.9 h-7.6z" fill="#000"/>
<path d="M798.0,464.5 l3.8,6.9 h-7.6z" fill="#000"/>
<path d="M801.3,467.9 l3.8,6.9 h-7.6z" fill="#000"/>
<path d="M821.5,472.9 l3.8,6.9 h-7.6z" fill="#000"/>
<path d="M735.1,346.4 l3.8,6.9 h-7.6z" fill="#000"/>
<path d="M869.8,383.6 l3.8,6.9 h-7.6z" fill="#000"/>
<path d="M882.3,395.8 l3.8,6.9 h-7.6z" fill="#000"/>
<path d="M860.6,442.8 l3.8,6.9 h-7.6z" fill="#000"/>
<path d="M858.9,446.1 l3.8,6.9 h-7.6z" fill="#000"/>
<path d="M853.9,452.0 l3.8,6.9 h-7.6z" fill="#000"/>
<path d="M886.5,442.8 l3.8,6.9 h-7.6z" fill="#000"/>
<path d="M892.4,438.6 l3.8,6.9 h-7.6z" fill="#000"/>
<path d="M896.6,437.7 l3.8,6.9 h-7.6z" fill="#000"/>
<path d="M910.5,446.9 l3.8,6.9 h-7.6z" fill="#000"/>
<path d="M763.4,509.8 l3.8,6.9 h-7.6z" fill="#000"/>
<path d="M798.5,509.8 l3.8,6.9 h-7.6z" fill="#000"/>
<path d="M579.5,511.1 l3.8,6.9 h-7.6z" fill="#000"/>
<path d="M570.8,531.7 l3.8,6.9 h-7.6z" fill="#000"/>
<path d="M582.0,559.7 l3.8,6.9 h-7.6z" fill="#000"/>
<path d="M582.0,564.3 l3.8,6.9 h-7.6z" fill="#000"/>
<path d="M747.1,510.6 l3.8,6.9 h-7.6z" fill="#000"/>
<path d="M722.0,625.1 l3.8,6.9 h-7.6z" fill="#000"/>
<path d="M999.8,209.6 l3.8,6.9 h-7.6z" fill="#000"/>
<path d="M998.0,231.1 l3.8,6.9 h-7.6z" fill="#000"/>
<path d="M947.3,278.9 l3.8,6.9 h-7.6z" fill="#000"/>
<path d="M926.8,289.1 l3.8,6.9 h-7.6z" fill="#000"/>
<path d="M922.7,296.0 l3.8,6.9 h-7.6z" fill="#000"/>
<path d="M843.5,364.2 l3.8,6.9 h-7.6z" fill="#000"/>
<path d="M848.3,367.6 l3.8,6.9 h-7.6z" fill="#000"/>
<path d="M864.7,353.3 l3.8,6.9 h-7.6z" fill="#000"/>
<path d="M881.1,375.8 l3.8,6.9 h-7.6z" fill="#000"/>
<path d="M854.6,298.1 l3.8,6.9 h-7.6z" fill="#000"/>
<path d="M861.9,300.7 l3.8,6.9 h-7.6z" fill="#000"/>
<path d="M861.7,302.5 l3.8,6.9 h-7.6z" fill="#000"/>
<path d="M854.0,306.2 l3.8,6.9 h-7.6z" fill="#000"/>
<path d="M854.0,307.4 l3.8,6.9 h-7.6z" fill="#000"/>
<path d="M855.0,309.6 l3.8,6.9 h-7.6z" fill="#000"/>
<path d="M858.7,308.4 l3.8,6.9 h-7.6z" fill="#000"/>
<path d="M865.4,306.4 l3.8,6.9 h-7.6z" fill="#000"/>
<path d="M868.1,313.2 l3.8,6.9 h-7.6z" fill="#000"/>
<path d="M852.2,314.2 l3.8,6.9 h-7.6z" fill="#000"/>
<path d="M861.9,316.4 l3.8,6.9 h-7.6z" fill="#000"/>
<path d="M858.9,318.5 l3.8,6.9 h-7.6z" fill="#000"/>
<path d="M842.1,317.1 l3.8,6.9 h-7.6z" fill="#000"/>
<path d="M842.1,318.8 l3.8,6.9 h-7.6z" fill="#000"/>
<path d="M835.4,320.7 l3.8,6.9 h-7.6z" fill="#000"/>
<path d="M847.4,329.7 l3.8,6.9 h-7.6z" fill="#000"/>
<rect x="320.3" y="236.3" width="8.4" height="8.4" fill="#3b6df0"/>
<rect x="505.1" y="306.1" width="8.4" height="8.4" fill="#3b6df0"/>
<rect x="707.0" y="295.4" width="8.4" height="8.4" fill="#3b6df0"/>
<rect x="784.1" y="328.4" width="8.4" height="8.4" fill="#3b6df0"/>
<rect x="753.2" y="334.4" width="8.4" height="8.4" fill="#3b6df0"/>
<rect x="727.6" y="345.6" width="8.4" height="8.4" fill="#3b6df0"/>
<rect x="720.9" y="371.9" width="8.4" height="8.4" fill="#3b6df0"/>
<rect x="739.7" y="371.9" width="8.4" height="8.4" fill="#3b6df0"/>
<rect x="709.2" y="382.5" width="8.4" height="8.4" fill="#3b6df0"/>
<rect x="753.6" y="380.8" width="8.4" height="8.4" fill="#3b6df0"/>
<rect x="763.3" y="375.8" width="8.4" height="8.4" fill="#3b6df0"/>
<rect x="785.7" y="354.9" width="8.4" height="8.4" fill="#3b6df0"/>
<rect x="784.1" y="359.0" width="8.4" height="8.4" fill="#3b6df0"/>
<rect x="782.9" y="363.2" width="8.4" height="8.4" fill="#3b6df0"/>
<rect x="785.7" y="459.6" width="8.4" height="8.4" fill="#3b6df0"/>
<rect x="774.9" y="471.3" width="8.4" height="8.4" fill="#3b6df0"/>
<rect x="766.1" y="488.4" width="8.4" height="8.4" fill="#3b6df0"/>
<rect x="599.4" y="481.1" width="8.4" height="8.4" fill="#3b6df0"/>
<rect x="904.6" y="422.7" width="8.4" height="8.4" fill="#3b6df0"/>
<rect x="887.7" y="426.9" width="8.4" height="8.4" fill="#3b6df0"/>
<rect x="856.9" y="434.1" width="8.4" height="8.4" fill="#3b6df0"/>
<rect x="687.3" y="625.2" width="8.4" height="8.4" fill="#3b6df0"/>
<rect x="710.2" y="631.6" width="8.4" height="8.4" fill="#3b6df0"/>
<rect x="1000.5" y="202.6" width="8.4" height="8.4" fill="#3b6df0"/>
<rect x="1001.8" y="205.8" width="8.4" height="8.4" fill="#3b6df0"/>
<rect x="987.3" y="225.3" width="8.4" height="8.4" fill="#3b6df0"/>
<rect x="930.8" y="278.1" width="8.4" height="8.4" fill="#3b6df0"/>
<rect x="915.8" y="289.7" width="8.4" height="8.4" fill="#3b6df0"/>
<rect x="842.7" y="349.1" width="8.4" height="8.4" fill="#3b6df0"/>
<rect x="848.2" y="349.1" width="8.4" height="8.4" fill="#3b6df0"/>
<rect x="867.3" y="354.6" width="8.4" height="8.4" fill="#3b6df0"/>
<rect x="838.8" y="313.2" width="8.4" height="8.4" fill="#3b6df0"/>
<rect x="845.5" y="312.7" width="8.4" height="8.4" fill="#3b6df0"/>
<rect x="850.8" y="311.1" width="8.4" height="8.4" fill="#3b6df0"/>
<rect x="855.2" y="310.3" width="8.4" height="8.4" fill="#3b6df0"/>
<rect x="859.3" y="308.6" width="8.4" height="8.4" fill="#3b6df0"/>
<rect x="864.2" y="307.0" width="8.4" height="8.4" fill="#3b6df0"/>
<rect x="842.3" y="347.9" width="8.4" height="8.4" fill="#3b6df0"/>
<rect x="934.2" y="266.5" width="8.4" height="8.4" fill="#e8251c"/>
<rect x="920.6" y="275.4" width="8.4" height="8.4" fill="#e8251c"/>
<rect x="916.5" y="277.5" width="8.4" height="8.4" fill="#e8251c"/>
<rect x="911.0" y="280.2" width="8.4" height="8.4" fill="#e8251c"/>
<rect x="835.5" y="322.4" width="8.4" height="8.4" fill="#e8251c"/>
<rect x="850.0" y="316.4" width="8.4" height="8.4" fill="#e8251c"/>
<rect x="847.9" y="319.9" width="8.4" height="8.4" fill="#e8251c"/>
<rect x="867.7" y="314.9" width="8.4" height="8.4" fill="#e8251c"/>
<rect x="866.7" y="320.6" width="8.4" height="8.4" fill="#e8251c"/>
<rect x="860.8" y="329.3" width="8.4" height="8.4" fill="#e8251c"/>
<rect x="858.9" y="332.8" width="8.4" height="8.4" fill="#e8251c"/>
<rect x="858.9" y="335.5" width="8.4" height="8.4" fill="#e8251c"/>
<rect x="860.8" y="337.2" width="8.4" height="8.4" fill="#e8251c"/>
<rect x="864.3" y="335.4" width="8.4" height="8.4" fill="#e8251c"/>
<rect x="855.2" y="340.8" width="8.4" height="8.4" fill="#e8251c"/>
<rect x="855.4" y="342.0" width="8.4" height="8.4" fill="#e8251c"/>
<rect x="846.8" y="342.4" width="8.4" height="8.4" fill="#e8251c"/>
<rect x="850.5" y="345.4" width="8.4" height="8.4" fill="#e8251c"/>
<rect x="858.3" y="346.2" width="8.4" height="8.4" fill="#e8251c"/>
<rect x="805.9" y="284.6" width="77.6" height="66.7" fill="none" stroke="#cc3228" stroke-width="3" stroke-dasharray="3,3.45"/>
<path d="M712.3,216.9 L805.9,284.6" stroke="#d93a2c" stroke-width="2.2"/>
<g clip-path="url(#insclipb)">
<g transform="matrix(1.0236,0,0,1.0286,-11.97,-5.35)"><use href="#insbase"/></g>
<path d="M629.7,60.2 L629.4,84.3M653.0,73.0 L663.5,85.0M657.8,94.0 L671.8,106.0M595.6,108.3 L592.9,118.1M572.6,129.3 L585.7,136.8M629.7,118.4 L653.0,115.8M644.0,122.6 L656.8,166.1M609.0,157.1 L662.5,158.3M662.5,158.3 L680.3,131.3 L683.3,113.5M662.5,158.3 L656.8,169.1M656.8,177.4 L645.5,193.9M620.0,198.9 L645.5,195.4M631.2,208.2 L645.5,197.7M645.5,197.7 L654.8,210.4M662.5,160.1 L671.8,176.6" fill="none" stroke="#444" stroke-width="1.5"/>
<path d="M604.6,17.4 l4.2,7.5 h-8.3z" fill="#dda53a"/>
<path d="M597.9,39.5 l4.2,7.5 h-8.3z" fill="#dda53a"/>
<path d="M695.5,64.4 l4.2,7.5 h-8.3z" fill="#dda53a"/>
<path d="M641.7,81.0 l4.2,7.5 h-8.3z" fill="#dda53a"/>
<path d="M637.2,85.5 l4.2,7.5 h-8.3z" fill="#dda53a"/>
<path d="M630.9,55.3 l5.0,7.8 h-10.0z" fill="#000"/>
<path d="M653.0,63.4 l5.0,7.8 h-10.0z" fill="#000"/>
<path d="M652.3,69.1 l5.0,7.8 h-10.0z" fill="#000"/>
<path d="M629.0,80.4 l5.0,7.8 h-10.0z" fill="#000"/>
<path d="M629.0,84.1 l5.0,7.8 h-10.0z" fill="#000"/>
<path d="M632.0,90.9 l5.0,7.8 h-10.0z" fill="#000"/>
<path d="M643.2,87.1 l5.0,7.8 h-10.0z" fill="#000"/>
<path d="M663.5,81.1 l5.0,7.8 h-10.0z" fill="#000"/>
<path d="M671.8,102.1 l5.0,7.8 h-10.0z" fill="#000"/>
<path d="M623.7,105.1 l5.0,7.8 h-10.0z" fill="#000"/>
<path d="M653.0,111.9 l5.0,7.8 h-10.0z" fill="#000"/>
<path d="M644.0,118.7 l5.0,7.8 h-10.0z" fill="#000"/>
<path d="M592.9,114.2 l5.0,7.8 h-10.0z" fill="#000"/>
<path d="M592.9,119.4 l5.0,7.8 h-10.0z" fill="#000"/>
<path d="M572.6,125.4 l5.0,7.8 h-10.0z" fill="#000"/>
<path d="M609.0,153.2 l5.0,7.8 h-10.0z" fill="#000"/>
<rect x="592.0" y="104.7" width="7.2" height="7.2" fill="#3b6df0"/>
<rect x="612.3" y="103.2" width="7.2" height="7.2" fill="#3b6df0"/>
<rect x="628.4" y="98.2" width="7.2" height="7.2" fill="#3b6df0"/>
<rect x="641.9" y="95.7" width="7.2" height="7.2" fill="#3b6df0"/>
<rect x="654.2" y="90.4" width="7.2" height="7.2" fill="#3b6df0"/>
<rect x="668.9" y="85.6" width="7.2" height="7.2" fill="#3b6df0"/>
<rect x="602.8" y="212.1" width="7.2" height="7.2" fill="#3b6df0"/>
<rect x="581.6" y="132.7" width="8.2" height="8.2" fill="#e8251c"/>
<rect x="625.6" y="114.3" width="8.2" height="8.2" fill="#e8251c"/>
<rect x="619.3" y="124.9" width="8.2" height="8.2" fill="#e8251c"/>
<rect x="679.2" y="109.4" width="8.2" height="8.2" fill="#e8251c"/>
<rect x="676.2" y="127.2" width="8.2" height="8.2" fill="#e8251c"/>
<rect x="658.4" y="154.2" width="8.2" height="8.2" fill="#e8251c"/>
<rect x="652.7" y="165.0" width="8.2" height="8.2" fill="#e8251c"/>
<rect x="652.7" y="173.3" width="8.2" height="8.2" fill="#e8251c"/>
<rect x="658.4" y="178.5" width="8.2" height="8.2" fill="#e8251c"/>
<rect x="668.7" y="172.8" width="8.2" height="8.2" fill="#e8251c"/>
<rect x="641.4" y="189.8" width="8.2" height="8.2" fill="#e8251c"/>
<rect x="641.8" y="193.6" width="8.2" height="8.2" fill="#e8251c"/>
<rect x="615.9" y="194.8" width="8.2" height="8.2" fill="#e8251c"/>
<rect x="627.1" y="204.1" width="8.2" height="8.2" fill="#e8251c"/>
<rect x="650.7" y="206.3" width="8.2" height="8.2" fill="#e8251c"/>
</g>
<rect x="483.7" y="13.7" width="228.6" height="203.2" fill="none" stroke="#c8362e" stroke-width="1.3" stroke-dasharray="4.6,2.3"/>
<g transform="translate(0,0)">
<use href="#scs"/>
<path d="M978.1,568.4 l2.7,4.8 h-5.4z" fill="#dda53a"/>
<path d="M1063.7,566.4 l2.7,4.8 h-5.4z" fill="#dda53a"/>
<path d="M1000.5,592.8 l2.7,4.8 h-5.4z" fill="#dda53a"/>
<path d="M967.8,596.2 l2.7,4.8 h-5.4z" fill="#dda53a"/>
<path d="M981.6,596.8 l2.7,4.8 h-5.4z" fill="#dda53a"/>
<rect x="967.9" y="603.0" width="5.0" height="5.0" fill="#3b6df0"/>
<rect x="983.1" y="607.6" width="5.0" height="5.0" fill="#3b6df0"/>
<rect x="960" y="564.8" width="163.6" height="231.4" fill="none" stroke="#000" stroke-width="2.9" stroke-dasharray="7,3.2"/>
</g>
<use href="#compass" x="123.5" y="147.1"/>
<use href="#legend"/>
</g>
<text x="1.5" y="887.4" font-size="60">b</text>
<g transform="translate(1.5,1686.8)">
<use href="#base"/>
<path d="M801.0,293.0 L819.4,299.3M789.8,463.2 L797.7,468.2 L822.0,476.2M770.3,492.5 L781.7,500.2M870.3,387.2 L882.5,399.0 L901.3,388.9M882.8,433.0 L887.0,446.4M908.8,426.8 L911.0,450.6M789.8,463.2 L801.6,472.0 L821.7,476.2M770.2,492.5 L798.7,513.1M763.5,513.1 L798.7,513.1M770.6,492.2 L790.5,508.1M747.1,513.9 L790.5,512.6M925.3,279.8 L923.2,298.9M828.3,351.5 L826.2,368.6M852.9,357.0 L844.0,367.9M805.5,296.4 L819.2,301.6M832.2,300.6 L846.1,288.7M861.9,305.9 L865.9,310.5M876.3,304.4 L875.6,310.1M842.9,317.3 L842.0,320.7M842.0,322.2 L839.7,326.7M855.0,315.2 L859.1,322.0M852.4,324.0 L862.4,319.7M868.2,316.7 L871.4,324.8 L872.3,319.2M871.4,324.8 L865.4,333.8M847.4,333.2 L863.1,337.4M863.4,339.9 L859.6,345.6M851.2,347.1 L859.6,346.1M854.9,350.1 L859.6,347.1M859.7,347.6 L853.0,355.5M859.7,347.6 L862.7,350.8M830.3,351.6 L829.4,355.5" fill="none" stroke="#686868" stroke-width="3" stroke-linecap="butt"/>
<path d="M631.4,341.1 l3.8,6.9 h-7.6z" fill="#dda53a"/>
<path d="M610.8,368.0 l3.8,6.9 h-7.6z" fill="#dda53a"/>
<path d="M656.0,417.8 l3.8,6.9 h-7.6z" fill="#dda53a"/>
<path d="M801.8,414.1 l3.8,6.9 h-7.6z" fill="#dda53a"/>
<path d="M816.1,432.1 l3.8,6.9 h-7.6z" fill="#dda53a"/>
<path d="M727.3,374.2 l3.8,6.9 h-7.6z" fill="#dda53a"/>
<path d="M778.0,358.8 l3.8,6.9 h-7.6z" fill="#dda53a"/>
<path d="M801.8,338.7 l3.8,6.9 h-7.6z" fill="#dda53a"/>
<path d="M618.8,476.5 l3.8,6.9 h-7.6z" fill="#dda53a"/>
<path d="M602.4,482.3 l3.8,6.9 h-7.6z" fill="#dda53a"/>
<path d="M918.0,474.0 l3.8,6.9 h-7.6z" fill="#dda53a"/>
<path d="M866.1,491.2 l3.8,6.9 h-7.6z" fill="#dda53a"/>
<path d="M844.3,564.5 l3.8,6.9 h-7.6z" fill="#dda53a"/>
<path d="M579.2,510.8 l3.8,6.9 h-7.6z" fill="#dda53a"/>
<path d="M625.8,530.6 l3.8,6.9 h-7.6z" fill="#dda53a"/>
<path d="M582.2,558.3 l3.8,6.9 h-7.6z" fill="#dda53a"/>
<path d="M582.2,563.8 l3.8,6.9 h-7.6z" fill="#dda53a"/>
<path d="M703.2,568.6 l3.8,6.9 h-7.6z" fill="#dda53a"/>
<path d="M709.0,615.7 l3.8,6.9 h-7.6z" fill="#dda53a"/>
<path d="M989.5,269.4 l3.8,6.9 h-7.6z" fill="#dda53a"/>
<path d="M892.5,273.6 l3.8,6.9 h-7.6z" fill="#dda53a"/>
<path d="M876.1,277.7 l3.8,6.9 h-7.6z" fill="#dda53a"/>
<path d="M852.9,353.5 l3.8,6.9 h-7.6z" fill="#dda53a"/>
<path d="M843.7,292.6 l3.8,6.9 h-7.6z" fill="#dda53a"/>
<path d="M858.5,306.3 l3.8,6.9 h-7.6z" fill="#dda53a"/>
<path d="M322.5,232.8 l3.8,6.9 h-7.6z" fill="#000"/>
<path d="M512.7,302.7 l3.8,6.9 h-7.6z" fill="#000"/>
<path d="M709.7,288.4 l3.8,6.9 h-7.6z" fill="#000"/>
<path d="M718.0,287.9 l3.8,6.9 h-7.6z" fill="#000"/>
<path d="M801.0,289.6 l3.8,6.9 h-7.6z" fill="#000"/>
<path d="M784.2,328.1 l3.8,6.9 h-7.6z" fill="#000"/>
<path d="M735.6,375.9 l3.8,6.9 h-7.6z" fill="#000"/>
<path d="M736.5,379.3 l3.8,6.9 h-7.6z" fill="#000"/>
<path d="M762.5,374.2 l3.8,6.9 h-7.6z" fill="#000"/>
<path d="M787.6,368.4 l3.8,6.9 h-7.6z" fill="#000"/>
<path d="M797.7,464.7 l3.8,6.9 h-7.6z" fill="#000"/>
<path d="M801.8,468.1 l3.8,6.9 h-7.6z" fill="#000"/>
<path d="M822.0,472.8 l3.8,6.9 h-7.6z" fill="#000"/>
<path d="M662.7,475.3 l3.8,6.9 h-7.6z" fill="#000"/>
<path d="M827.0,364.2 l3.8,6.9 h-7.6z" fill="#000"/>
<path d="M821.1,364.5 l3.8,6.9 h-7.6z" fill="#000"/>
<path d="M870.3,383.8 l3.8,6.9 h-7.6z" fill="#000"/>
<path d="M875.8,383.1 l3.8,6.9 h-7.6z" fill="#000"/>
<path d="M882.5,395.5 l3.8,6.9 h-7.6z" fill="#000"/>
<path d="M860.2,443.8 l3.8,6.9 h-7.6z" fill="#000"/>
<path d="M887.0,443.0 l3.8,6.9 h-7.6z" fill="#000"/>
<path d="M892.9,438.4 l3.8,6.9 h-7.6z" fill="#000"/>
<path d="M897.1,437.4 l3.8,6.9 h-7.6z" fill="#000"/>
<path d="M911.0,447.1 l3.8,6.9 h-7.6z" fill="#000"/>
<path d="M763.5,509.7 l3.8,6.9 h-7.6z" fill="#000"/>
<path d="M798.7,509.7 l3.8,6.9 h-7.6z" fill="#000"/>
<path d="M747.1,510.5 l3.8,6.9 h-7.6z" fill="#000"/>
<path d="M686.4,616.1 l3.8,6.9 h-7.6z" fill="#000"/>
<path d="M722.5,625.3 l3.8,6.9 h-7.6z" fill="#000"/>
<path d="M998.8,231.1 l3.8,6.9 h-7.6z" fill="#000"/>
<path d="M947.8,278.4 l3.8,6.9 h-7.6z" fill="#000"/>
<path d="M927.3,289.3 l3.8,6.9 h-7.6z" fill="#000"/>
<path d="M923.2,295.5 l3.8,6.9 h-7.6z" fill="#000"/>
<path d="M844.0,364.4 l3.8,6.9 h-7.6z" fill="#000"/>
<path d="M848.8,367.8 l3.8,6.9 h-7.6z" fill="#000"/>
<path d="M881.6,375.4 l3.8,6.9 h-7.6z" fill="#000"/>
<path d="M846.1,285.3 l3.8,6.9 h-7.6z" fill="#000"/>
<path d="M862.1,300.4 l3.8,6.9 h-7.6z" fill="#000"/>
<path d="M861.9,302.4 l3.8,6.9 h-7.6z" fill="#000"/>
<path d="M876.3,300.9 l3.8,6.9 h-7.6z" fill="#000"/>
<path d="M854.1,306.0 l3.8,6.9 h-7.6z" fill="#000"/>
<path d="M854.2,307.5 l3.8,6.9 h-7.6z" fill="#000"/>
<path d="M855.3,309.2 l3.8,6.9 h-7.6z" fill="#000"/>
<path d="M858.7,307.8 l3.8,6.9 h-7.6z" fill="#000"/>
<path d="M865.9,307.0 l3.8,6.9 h-7.6z" fill="#000"/>
<path d="M852.4,314.2 l3.8,6.9 h-7.6z" fill="#000"/>
<path d="M862.4,316.2 l3.8,6.9 h-7.6z" fill="#000"/>
<path d="M859.1,318.6 l3.8,6.9 h-7.6z" fill="#000"/>
<path d="M868.2,313.2 l3.8,6.9 h-7.6z" fill="#000"/>
<path d="M842.0,317.2 l3.8,6.9 h-7.6z" fill="#000"/>
<path d="M842.2,318.7 l3.8,6.9 h-7.6z" fill="#000"/>
<path d="M847.4,329.7 l3.8,6.9 h-7.6z" fill="#000"/>
<rect x="320.3" y="236.3" width="8.4" height="8.4" fill="#3b6df0"/>
<rect x="505.1" y="306.1" width="8.4" height="8.4" fill="#3b6df0"/>
<rect x="706.8" y="295.1" width="8.4" height="8.4" fill="#3b6df0"/>
<rect x="784.2" y="328.2" width="8.4" height="8.4" fill="#3b6df0"/>
<rect x="753.2" y="334.1" width="8.4" height="8.4" fill="#3b6df0"/>
<rect x="719.2" y="372.6" width="8.4" height="8.4" fill="#3b6df0"/>
<rect x="736.0" y="369.6" width="8.4" height="8.4" fill="#3b6df0"/>
<rect x="763.3" y="375.2" width="8.4" height="8.4" fill="#3b6df0"/>
<rect x="785.1" y="354.2" width="8.4" height="8.4" fill="#3b6df0"/>
<rect x="784.2" y="358.4" width="8.4" height="8.4" fill="#3b6df0"/>
<rect x="782.9" y="363.4" width="8.4" height="8.4" fill="#3b6df0"/>
<rect x="811.9" y="360.1" width="8.4" height="8.4" fill="#3b6df0"/>
<rect x="785.6" y="459.0" width="8.4" height="8.4" fill="#3b6df0"/>
<rect x="774.7" y="471.0" width="8.4" height="8.4" fill="#3b6df0"/>
<rect x="766.1" y="488.3" width="8.4" height="8.4" fill="#3b6df0"/>
<rect x="666.1" y="475.7" width="8.4" height="8.4" fill="#3b6df0"/>
<rect x="897.1" y="384.7" width="8.4" height="8.4" fill="#3b6df0"/>
<rect x="904.6" y="422.6" width="8.4" height="8.4" fill="#3b6df0"/>
<rect x="878.6" y="428.8" width="8.4" height="8.4" fill="#3b6df0"/>
<rect x="857.4" y="433.8" width="8.4" height="8.4" fill="#3b6df0"/>
<rect x="854.3" y="435.0" width="8.4" height="8.4" fill="#3b6df0"/>
<rect x="687.8" y="624.5" width="8.4" height="8.4" fill="#3b6df0"/>
<rect x="710.7" y="631.3" width="8.4" height="8.4" fill="#3b6df0"/>
<rect x="987.5" y="225.5" width="8.4" height="8.4" fill="#3b6df0"/>
<rect x="938.1" y="270.8" width="8.4" height="8.4" fill="#3b6df0"/>
<rect x="929.9" y="278.3" width="8.4" height="8.4" fill="#3b6df0"/>
<rect x="867.8" y="354.1" width="8.4" height="8.4" fill="#3b6df0"/>
<rect x="815.0" y="297.4" width="8.4" height="8.4" fill="#3b6df0"/>
<rect x="828.0" y="296.4" width="8.4" height="8.4" fill="#3b6df0"/>
<rect x="838.7" y="313.1" width="8.4" height="8.4" fill="#3b6df0"/>
<rect x="845.5" y="312.5" width="8.4" height="8.4" fill="#3b6df0"/>
<rect x="850.8" y="311.0" width="8.4" height="8.4" fill="#3b6df0"/>
<rect x="855.5" y="310.1" width="8.4" height="8.4" fill="#3b6df0"/>
<rect x="864.4" y="306.9" width="8.4" height="8.4" fill="#3b6df0"/>
<rect x="871.4" y="305.9" width="8.4" height="8.4" fill="#3b6df0"/>
<rect x="934.7" y="266.0" width="8.4" height="8.4" fill="#e8251c"/>
<rect x="921.1" y="274.9" width="8.4" height="8.4" fill="#e8251c"/>
<rect x="917.0" y="277.0" width="8.4" height="8.4" fill="#e8251c"/>
<rect x="911.5" y="280.4" width="8.4" height="8.4" fill="#e8251c"/>
<rect x="835.5" y="322.5" width="8.4" height="8.4" fill="#e8251c"/>
<rect x="850.2" y="316.3" width="8.4" height="8.4" fill="#e8251c"/>
<rect x="848.2" y="319.8" width="8.4" height="8.4" fill="#e8251c"/>
<rect x="868.1" y="315.0" width="8.4" height="8.4" fill="#e8251c"/>
<rect x="867.2" y="320.6" width="8.4" height="8.4" fill="#e8251c"/>
<rect x="861.2" y="329.6" width="8.4" height="8.4" fill="#e8251c"/>
<rect x="858.9" y="333.2" width="8.4" height="8.4" fill="#e8251c"/>
<rect x="859.2" y="335.7" width="8.4" height="8.4" fill="#e8251c"/>
<rect x="861.2" y="337.4" width="8.4" height="8.4" fill="#e8251c"/>
<rect x="864.6" y="335.6" width="8.4" height="8.4" fill="#e8251c"/>
<rect x="855.4" y="341.4" width="8.4" height="8.4" fill="#e8251c"/>
<rect x="855.5" y="343.4" width="8.4" height="8.4" fill="#e8251c"/>
<rect x="847.0" y="342.9" width="8.4" height="8.4" fill="#e8251c"/>
<rect x="850.7" y="345.9" width="8.4" height="8.4" fill="#e8251c"/>
<rect x="858.5" y="346.6" width="8.4" height="8.4" fill="#e8251c"/>
<rect x="826.1" y="347.4" width="8.4" height="8.4" fill="#e8251c"/>
<rect x="830.0" y="346.6" width="8.4" height="8.4" fill="#e8251c"/>
<rect x="804.4" y="283.6" width="77.8" height="65.8" fill="none" stroke="#cc3228" stroke-width="3" stroke-dasharray="3,3.45"/>
<path d="M710.3,215.3 L804.4,283.6" stroke="#d93a2c" stroke-width="2.2"/>
<g clip-path="url(#insclipc)">
<g transform="matrix(1,0,0,1,-2,-9.8)"><use href="#insbase"/></g>
<path d="M480.8,37.4 L521.3,53.1M559.9,50.1 L600.9,14.5M647.5,66.0 L659.5,79.8M690.3,61.5 L688.1,78.8M591.5,100.5 L588.9,110.6M588.9,115.1 L581.8,128.6M627.2,94.1 L639.2,114.7M619.4,120.7 L649.0,107.6M666.3,98.6 L675.6,122.9 L678.3,106.1M675.6,122.9 L658.0,150.1M604.7,148.2 L651.2,160.9M652.0,168.4 L640.7,185.7M615.9,190.2 L640.7,187.2M626.9,199.2 L640.7,190.2M641.0,191.7 L621.2,215.3M641.0,191.7 L650.0,201.2M554.1,203.7 L551.4,215.3" fill="none" stroke="#444" stroke-width="1.5"/>
<path d="M593.9,33.0 l4.0,7.0 h-8.0z" fill="#dda53a"/>
<path d="M637.4,74.1 l4.0,7.0 h-8.0z" fill="#dda53a"/>
<path d="M600.9,11.0 l4.0,7.0 h-8.0z" fill="#000"/>
<path d="M648.2,56.5 l4.0,7.0 h-8.0z" fill="#000"/>
<path d="M647.5,62.5 l4.0,7.0 h-8.0z" fill="#000"/>
<path d="M690.3,58.0 l4.0,7.0 h-8.0z" fill="#000"/>
<path d="M624.5,73.3 l4.0,7.0 h-8.0z" fill="#000"/>
<path d="M625.0,77.8 l4.0,7.0 h-8.0z" fill="#000"/>
<path d="M628.0,83.1 l4.0,7.0 h-8.0z" fill="#000"/>
<path d="M638.0,78.6 l4.0,7.0 h-8.0z" fill="#000"/>
<path d="M659.5,76.3 l4.0,7.0 h-8.0z" fill="#000"/>
<path d="M619.4,98.1 l4.0,7.0 h-8.0z" fill="#000"/>
<path d="M649.0,104.1 l4.0,7.0 h-8.0z" fill="#000"/>
<path d="M639.2,111.2 l4.0,7.0 h-8.0z" fill="#000"/>
<path d="M666.3,95.1 l4.0,7.0 h-8.0z" fill="#000"/>
<path d="M588.9,107.1 l4.0,7.0 h-8.0z" fill="#000"/>
<path d="M589.4,111.6 l4.0,7.0 h-8.0z" fill="#000"/>
<path d="M604.7,144.7 l4.0,7.0 h-8.0z" fill="#000"/>
<rect x="516.7" y="48.4" width="9.3" height="9.3" fill="#3b6df0"/>
<rect x="555.3" y="45.4" width="9.3" height="9.3" fill="#3b6df0"/>
<rect x="586.8" y="95.9" width="9.3" height="9.3" fill="#3b6df0"/>
<rect x="606.8" y="93.9" width="9.3" height="9.3" fill="#3b6df0"/>
<rect x="622.6" y="89.4" width="9.3" height="9.3" fill="#3b6df0"/>
<rect x="636.4" y="86.9" width="9.3" height="9.3" fill="#3b6df0"/>
<rect x="662.8" y="77.1" width="9.3" height="9.3" fill="#3b6df0"/>
<rect x="683.4" y="74.1" width="9.3" height="9.3" fill="#3b6df0"/>
<rect x="577.2" y="124.0" width="9.3" height="9.3" fill="#e8251c"/>
<rect x="620.8" y="105.5" width="9.3" height="9.3" fill="#e8251c"/>
<rect x="614.8" y="116.0" width="9.3" height="9.3" fill="#e8251c"/>
<rect x="673.6" y="101.4" width="9.3" height="9.3" fill="#e8251c"/>
<rect x="670.9" y="118.3" width="9.3" height="9.3" fill="#e8251c"/>
<rect x="653.4" y="145.5" width="9.3" height="9.3" fill="#e8251c"/>
<rect x="646.6" y="156.3" width="9.3" height="9.3" fill="#e8251c"/>
<rect x="647.4" y="163.8" width="9.3" height="9.3" fill="#e8251c"/>
<rect x="653.4" y="169.0" width="9.3" height="9.3" fill="#e8251c"/>
<rect x="663.4" y="163.5" width="9.3" height="9.3" fill="#e8251c"/>
<rect x="636.1" y="181.1" width="9.3" height="9.3" fill="#e8251c"/>
<rect x="636.4" y="187.1" width="9.3" height="9.3" fill="#e8251c"/>
<rect x="611.3" y="185.6" width="9.3" height="9.3" fill="#e8251c"/>
<rect x="622.3" y="194.6" width="9.3" height="9.3" fill="#e8251c"/>
<rect x="645.4" y="196.5" width="9.3" height="9.3" fill="#e8251c"/>
<rect x="549.4" y="199.1" width="9.3" height="9.3" fill="#e8251c"/>
<rect x="561.0" y="196.5" width="9.3" height="9.3" fill="#e8251c"/>
</g>
<rect x="480.8" y="4.2" width="229.5" height="211.1" fill="none" stroke="#c8362e" stroke-width="1.3" stroke-dasharray="4.6,2.3"/>
<g transform="translate(-1.5,-6)">
<use href="#scs"/>
<path d="M978.1,568.4 l2.7,4.8 h-5.4z" fill="#dda53a"/>
<path d="M1063.7,566.4 l2.7,4.8 h-5.4z" fill="#dda53a"/>
<path d="M1000.5,592.8 l2.7,4.8 h-5.4z" fill="#dda53a"/>
<path d="M967.8,596.2 l2.7,4.8 h-5.4z" fill="#dda53a"/>
<path d="M981.6,596.8 l2.7,4.8 h-5.4z" fill="#dda53a"/>
<rect x="967.9" y="603.0" width="5.0" height="5.0" fill="#3b6df0"/>
<rect x="983.1" y="607.6" width="5.0" height="5.0" fill="#3b6df0"/>
<rect x="960" y="564.8" width="163.6" height="231.4" fill="none" stroke="#000" stroke-width="2.9" stroke-dasharray="7,3.2"/>
</g>
<use href="#compass" x="123.5" y="147.1"/>
<use href="#legend"/>
</g>
<text x="1.2" y="1732.8" font-size="65" stroke="#000" stroke-width="0.9">c</text>
<g transform="translate(0.0,0.0)">
<rect x="1336.8" y="569.9" width="48.2" height="28.2" fill="#e0937a"/>
<rect x="1336.8" y="598.1" width="48.2" height="50.8" fill="#7b9dc0"/>
<rect x="1415.4" y="237.8" width="48.2" height="146.5" fill="#e0937a"/>
<rect x="1415.4" y="384.3" width="48.2" height="264.6" fill="#7b9dc0"/>
<rect x="1493.8" y="291.5" width="48.2" height="64.1" fill="#e0937a"/>
<rect x="1493.8" y="355.6" width="48.2" height="293.3" fill="#7b9dc0"/>
<rect x="1572.4" y="146.5" width="48.2" height="109.8" fill="#e0937a"/>
<rect x="1572.4" y="256.3" width="48.2" height="392.6" fill="#7b9dc0"/>
<rect x="1650.9" y="412.5" width="48.2" height="236.4" fill="#7b9dc0"/>
<rect x="1321.5" y="69.8" width="393.4" height="579.1" fill="none" stroke="#000" stroke-width="2"/>
<rect x="1336" y="81.4" width="54.8" height="27.2" fill="#e0937a"/>
<rect x="1336" y="111.9" width="54.8" height="27.2" fill="#7b9dc0"/>
<text x="1397.8" y="103" font-size="24.4">Uncaptured steel unit</text>
<text x="1397.8" y="133.2" font-size="24.4">Captured steel unit</text>
<text x="1309" y="77.6" font-size="26" text-anchor="end">300</text>
<text x="1309" y="270.7" font-size="26" text-anchor="end">200</text>
<text x="1309" y="463.8" font-size="26" text-anchor="end">100</text>
<text x="1400.2" y="681.9" font-size="26" text-anchor="middle">2</text>
<text x="1478.6" y="681.9" font-size="26" text-anchor="middle">5</text>
<text x="1557.6" y="681.9" font-size="26" text-anchor="middle">10</text>
<text x="1635.5" y="681.9" font-size="26" text-anchor="middle">20</text>
<text x="1518" y="726.8" font-size="30" text-anchor="middle">Annual emissions of steel unit (Mt)</text>
<text transform="translate(1251,360) rotate(-90)" font-size="30" text-anchor="middle">Carbon emissions (Mt)</text>
</g>
<text x="1192.0" y="47.5" font-size="62">d</text>
<g transform="translate(0.0,843.5)">
<rect x="1336.8" y="571.8" width="48.2" height="18.5" fill="#e0937a"/>
<rect x="1336.8" y="590.3" width="48.2" height="58.6" fill="#7b9dc0"/>
<rect x="1415.4" y="340.2" width="48.2" height="105.1" fill="#e0937a"/>
<rect x="1415.4" y="445.3" width="48.2" height="203.6" fill="#7b9dc0"/>
<rect x="1493.8" y="309.0" width="48.2" height="69.9" fill="#e0937a"/>
<rect x="1493.8" y="378.9" width="48.2" height="270.0" fill="#7b9dc0"/>
<rect x="1572.4" y="247.0" width="48.2" height="82.6" fill="#e0937a"/>
<rect x="1572.4" y="329.6" width="48.2" height="319.3" fill="#7b9dc0"/>
<rect x="1650.9" y="413.7" width="48.2" height="235.2" fill="#7b9dc0"/>
<rect x="1321.5" y="69.8" width="393.4" height="579.1" fill="none" stroke="#000" stroke-width="2"/>
<rect x="1336" y="81.4" width="54.8" height="27.2" fill="#e0937a"/>
<rect x="1336" y="111.9" width="54.8" height="27.2" fill="#7b9dc0"/>
<text x="1397.8" y="103" font-size="24.4">Uncaptured steel unit</text>
<text x="1397.8" y="133.2" font-size="24.4">Captured steel unit</text>
<text x="1309" y="77.6" font-size="26" text-anchor="end">300</text>
<text x="1309" y="270.7" font-size="26" text-anchor="end">200</text>
<text x="1309" y="463.8" font-size="26" text-anchor="end">100</text>
<text x="1400.2" y="681.9" font-size="26" text-anchor="middle">2</text>
<text x="1478.6" y="681.9" font-size="26" text-anchor="middle">5</text>
<text x="1557.6" y="681.9" font-size="26" text-anchor="middle">10</text>
<text x="1635.5" y="681.9" font-size="26" text-anchor="middle">20</text>
<text x="1518" y="726.8" font-size="30" text-anchor="middle">Annual emissions of steel unit (Mt)</text>
<text transform="translate(1251,360) rotate(-90)" font-size="30" text-anchor="middle">Carbon emissions (Mt)</text>
</g>
<text x="1192.5" y="879.9" font-size="62">e</text>
<g transform="translate(-3.0,1688.0)">
<rect x="1336.8" y="586.0" width="48.2" height="21.0" fill="#e0937a"/>
<rect x="1336.8" y="607.0" width="48.2" height="41.9" fill="#7b9dc0"/>
<rect x="1415.4" y="412.0" width="48.2" height="91.7" fill="#e0937a"/>
<rect x="1415.4" y="503.7" width="48.2" height="145.2" fill="#7b9dc0"/>
<rect x="1493.8" y="340.6" width="48.2" height="13.4" fill="#e0937a"/>
<rect x="1493.8" y="354.0" width="48.2" height="294.9" fill="#7b9dc0"/>
<rect x="1572.4" y="350.7" width="48.2" height="56.6" fill="#e0937a"/>
<rect x="1572.4" y="407.3" width="48.2" height="241.6" fill="#7b9dc0"/>
<rect x="1650.9" y="413.8" width="48.2" height="235.1" fill="#7b9dc0"/>
<rect x="1321.5" y="69.8" width="393.4" height="579.1" fill="none" stroke="#000" stroke-width="2"/>
<rect x="1336" y="81.4" width="54.8" height="27.2" fill="#e0937a"/>
<rect x="1336" y="111.9" width="54.8" height="27.2" fill="#7b9dc0"/>
<text x="1397.8" y="103" font-size="24.4">Uncaptured steel unit</text>
<text x="1397.8" y="133.2" font-size="24.4">Captured steel unit</text>
<text x="1309" y="77.6" font-size="26" text-anchor="end">300</text>
<text x="1309" y="270.7" font-size="26" text-anchor="end">200</text>
<text x="1309" y="463.8" font-size="26" text-anchor="end">100</text>
<text x="1400.2" y="681.9" font-size="26" text-anchor="middle">2</text>
<text x="1478.6" y="681.9" font-size="26" text-anchor="middle">5</text>
<text x="1557.6" y="681.9" font-size="26" text-anchor="middle">10</text>
<text x="1635.5" y="681.9" font-size="26" text-anchor="middle">20</text>
<text x="1518" y="726.8" font-size="30" text-anchor="middle">Annual emissions of steel unit (Mt)</text>
<text transform="translate(1251,360) rotate(-90)" font-size="30" text-anchor="middle">Carbon emissions (Mt)</text>
</g>
<text x="1200.0" y="1740.7" font-size="62">f</text>
</svg></body></html>
